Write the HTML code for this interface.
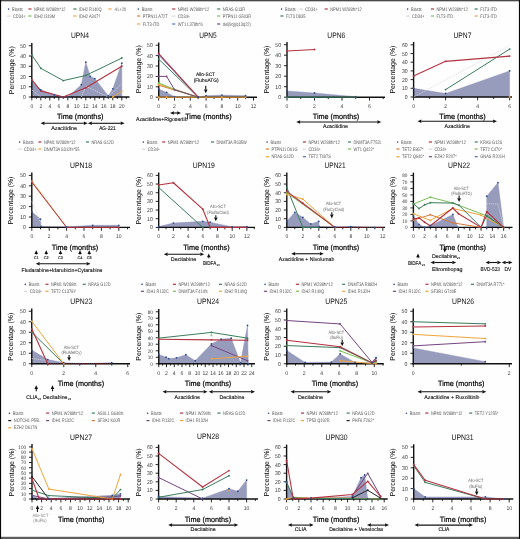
<!DOCTYPE html>
<html><head><meta charset="utf-8"><style>
html,body{margin:0;padding:0;background:#fff;}
svg{display:block;will-change:transform;}
text{font-family:"Liberation Sans", sans-serif;text-rendering:geometricPrecision;}
</style></head><body>
<svg width="520" height="539" viewBox="0 0 520 539">
<rect x="0" y="0" width="520" height="539" fill="#fefefe"/>
<text x="80" y="38.2" font-size="7.9" fill="#111" text-anchor="middle" textLength="18" lengthAdjust="spacingAndGlyphs">UPN4</text>
<circle cx="8.60" cy="9.10" r="0.8" fill="#2c4a8c"/>
<text x="12.0" y="10.5" font-size="5.0" fill="#585858" text-anchor="start" textLength="10.76" lengthAdjust="spacingAndGlyphs">Blasts</text>
<line x1="28.40" y1="9.00" x2="31.50" y2="9.00" stroke="#b3323f" stroke-width="1.2" stroke-linecap="butt"/>
<text x="34.0" y="10.5" font-size="5.0" fill="#585858" text-anchor="start" textLength="31.39" lengthAdjust="spacingAndGlyphs">NPM1 W288fs*12</text>
<line x1="73.40" y1="9.00" x2="76.50" y2="9.00" stroke="#3a7d5c" stroke-width="1.2" stroke-linecap="butt"/>
<text x="79.0" y="10.5" font-size="5.0" fill="#585858" text-anchor="start" textLength="22.61" lengthAdjust="spacingAndGlyphs">IDH2 R140Q</text>
<line x1="108.40" y1="9.00" x2="111.50" y2="9.00" stroke="#f0a53c" stroke-width="1.2" stroke-linecap="butt"/>
<text x="114.0" y="10.5" font-size="5.0" fill="#585858" text-anchor="start" textLength="12.3" lengthAdjust="spacingAndGlyphs">+IL+20</text>
<line x1="7.10" y1="16.10" x2="10.70" y2="16.10" stroke="#c8c8c8" stroke-width="0.8" stroke-linecap="butt"/>
<text x="13.0" y="17.5" font-size="5.0" fill="#585858" text-anchor="start" textLength="12.41" lengthAdjust="spacingAndGlyphs">CD34+</text>
<line x1="28.40" y1="16.00" x2="31.50" y2="16.00" stroke="#79bf55" stroke-width="1.2" stroke-linecap="butt"/>
<text x="34.0" y="17.5" font-size="5.0" fill="#585858" text-anchor="start" textLength="21.08" lengthAdjust="spacingAndGlyphs">IDH2 I319M</text>
<line x1="73.40" y1="16.00" x2="76.50" y2="16.00" stroke="#f0a53c" stroke-width="1.2" stroke-linecap="butt"/>
<text x="79.0" y="17.5" font-size="5.0" fill="#585858" text-anchor="start" textLength="21.3" lengthAdjust="spacingAndGlyphs">IDH2 A347?</text>
<polygon points="31.80,97.00 31.80,81.62 40.80,89.83 54.30,94.95 63.30,97.00 67.80,97.00 81.30,84.70 85.80,62.15 90.30,76.50 94.80,78.55 108.30,95.97 112.80,88.80 121.80,63.18 121.80,97.00" fill="#989cbc" stroke="#8a8dbb" stroke-width="0.4"/>
<line x1="31.80" y1="42.95" x2="31.80" y2="97.70" stroke="#111" stroke-width="1.4" stroke-linecap="butt"/>
<line x1="31.10" y1="97.00" x2="129.50" y2="97.00" stroke="#111" stroke-width="1.4" stroke-linecap="butt"/>
<line x1="28.80" y1="97.00" x2="31.80" y2="97.00" stroke="#111" stroke-width="0.9" stroke-linecap="butt"/>
<text x="25.9" y="99.016" font-size="5.6" fill="#404040" text-anchor="end" textLength="2.87" lengthAdjust="spacingAndGlyphs">0</text>
<line x1="28.80" y1="86.75" x2="31.80" y2="86.75" stroke="#111" stroke-width="0.9" stroke-linecap="butt"/>
<text x="25.9" y="88.766" font-size="5.6" fill="#404040" text-anchor="end" textLength="5.73" lengthAdjust="spacingAndGlyphs">10</text>
<line x1="28.80" y1="76.50" x2="31.80" y2="76.50" stroke="#111" stroke-width="0.9" stroke-linecap="butt"/>
<text x="25.9" y="78.516" font-size="5.6" fill="#404040" text-anchor="end" textLength="5.73" lengthAdjust="spacingAndGlyphs">20</text>
<line x1="28.80" y1="66.25" x2="31.80" y2="66.25" stroke="#111" stroke-width="0.9" stroke-linecap="butt"/>
<text x="25.9" y="68.266" font-size="5.6" fill="#404040" text-anchor="end" textLength="5.73" lengthAdjust="spacingAndGlyphs">30</text>
<line x1="28.80" y1="56.00" x2="31.80" y2="56.00" stroke="#111" stroke-width="0.9" stroke-linecap="butt"/>
<text x="25.9" y="58.016" font-size="5.6" fill="#404040" text-anchor="end" textLength="5.73" lengthAdjust="spacingAndGlyphs">40</text>
<line x1="28.80" y1="45.75" x2="31.80" y2="45.75" stroke="#111" stroke-width="0.9" stroke-linecap="butt"/>
<text x="25.9" y="47.766000000000005" font-size="5.6" fill="#404040" text-anchor="end" textLength="5.73" lengthAdjust="spacingAndGlyphs">50</text>
<line x1="31.80" y1="97.00" x2="31.80" y2="100.40" stroke="#111" stroke-width="0.9" stroke-linecap="butt"/>
<text x="31.8" y="107.9" font-size="5.5" fill="#404040" text-anchor="middle" textLength="2.81" lengthAdjust="spacingAndGlyphs">0</text>
<line x1="36.30" y1="97.00" x2="36.30" y2="98.90" stroke="#111" stroke-width="0.9" stroke-linecap="butt"/>
<line x1="40.80" y1="97.00" x2="40.80" y2="100.40" stroke="#111" stroke-width="0.9" stroke-linecap="butt"/>
<text x="40.8" y="107.9" font-size="5.5" fill="#404040" text-anchor="middle" textLength="2.81" lengthAdjust="spacingAndGlyphs">2</text>
<line x1="45.30" y1="97.00" x2="45.30" y2="98.90" stroke="#111" stroke-width="0.9" stroke-linecap="butt"/>
<line x1="49.80" y1="97.00" x2="49.80" y2="100.40" stroke="#111" stroke-width="0.9" stroke-linecap="butt"/>
<text x="49.8" y="107.9" font-size="5.5" fill="#404040" text-anchor="middle" textLength="2.81" lengthAdjust="spacingAndGlyphs">4</text>
<line x1="54.30" y1="97.00" x2="54.30" y2="98.90" stroke="#111" stroke-width="0.9" stroke-linecap="butt"/>
<line x1="58.80" y1="97.00" x2="58.80" y2="100.40" stroke="#111" stroke-width="0.9" stroke-linecap="butt"/>
<text x="58.8" y="107.9" font-size="5.5" fill="#404040" text-anchor="middle" textLength="2.81" lengthAdjust="spacingAndGlyphs">6</text>
<line x1="63.30" y1="97.00" x2="63.30" y2="98.90" stroke="#111" stroke-width="0.9" stroke-linecap="butt"/>
<line x1="67.80" y1="97.00" x2="67.80" y2="100.40" stroke="#111" stroke-width="0.9" stroke-linecap="butt"/>
<text x="67.8" y="107.9" font-size="5.5" fill="#404040" text-anchor="middle" textLength="2.81" lengthAdjust="spacingAndGlyphs">8</text>
<line x1="72.30" y1="97.00" x2="72.30" y2="98.90" stroke="#111" stroke-width="0.9" stroke-linecap="butt"/>
<line x1="76.80" y1="97.00" x2="76.80" y2="100.40" stroke="#111" stroke-width="0.9" stroke-linecap="butt"/>
<text x="76.8" y="107.9" font-size="5.5" fill="#404040" text-anchor="middle" textLength="5.63" lengthAdjust="spacingAndGlyphs">10</text>
<line x1="81.30" y1="97.00" x2="81.30" y2="98.90" stroke="#111" stroke-width="0.9" stroke-linecap="butt"/>
<line x1="85.80" y1="97.00" x2="85.80" y2="100.40" stroke="#111" stroke-width="0.9" stroke-linecap="butt"/>
<text x="85.8" y="107.9" font-size="5.5" fill="#404040" text-anchor="middle" textLength="5.63" lengthAdjust="spacingAndGlyphs">12</text>
<line x1="90.30" y1="97.00" x2="90.30" y2="98.90" stroke="#111" stroke-width="0.9" stroke-linecap="butt"/>
<line x1="94.80" y1="97.00" x2="94.80" y2="100.40" stroke="#111" stroke-width="0.9" stroke-linecap="butt"/>
<text x="94.8" y="107.9" font-size="5.5" fill="#404040" text-anchor="middle" textLength="5.63" lengthAdjust="spacingAndGlyphs">14</text>
<line x1="99.30" y1="97.00" x2="99.30" y2="98.90" stroke="#111" stroke-width="0.9" stroke-linecap="butt"/>
<line x1="103.80" y1="97.00" x2="103.80" y2="100.40" stroke="#111" stroke-width="0.9" stroke-linecap="butt"/>
<text x="103.8" y="107.9" font-size="5.5" fill="#404040" text-anchor="middle" textLength="5.63" lengthAdjust="spacingAndGlyphs">16</text>
<line x1="108.30" y1="97.00" x2="108.30" y2="98.90" stroke="#111" stroke-width="0.9" stroke-linecap="butt"/>
<line x1="112.80" y1="97.00" x2="112.80" y2="100.40" stroke="#111" stroke-width="0.9" stroke-linecap="butt"/>
<text x="112.8" y="107.9" font-size="5.5" fill="#404040" text-anchor="middle" textLength="5.63" lengthAdjust="spacingAndGlyphs">18</text>
<line x1="117.30" y1="97.00" x2="117.30" y2="98.90" stroke="#111" stroke-width="0.9" stroke-linecap="butt"/>
<line x1="121.80" y1="97.00" x2="121.80" y2="100.40" stroke="#111" stroke-width="0.9" stroke-linecap="butt"/>
<text x="121.8" y="107.9" font-size="5.5" fill="#404040" text-anchor="middle" textLength="5.63" lengthAdjust="spacingAndGlyphs">20</text>
<line x1="126.30" y1="97.00" x2="126.30" y2="98.90" stroke="#111" stroke-width="0.9" stroke-linecap="butt"/>
<polyline points="31.80,89.83 40.80,97.00" fill="none" stroke="#d8d8d8" stroke-width="0.8" stroke-dasharray="1.2,0.8" stroke-linejoin="round"/>
<polyline points="81.30,97.00 85.80,86.24 108.30,97.00 121.80,83.67" fill="none" stroke="#d8d8d8" stroke-width="0.8" stroke-dasharray="1.2,0.8" stroke-linejoin="round"/>
<polyline points="31.80,54.98 40.80,68.30 63.30,80.60 85.80,75.47 121.80,58.05" fill="none" stroke="#3a7d5c" stroke-width="1.0" stroke-linejoin="round"/>
<circle cx="31.80" cy="54.98" r="0.95" fill="#3a7d5c"/>
<circle cx="40.80" cy="68.30" r="0.95" fill="#3a7d5c"/>
<circle cx="63.30" cy="80.60" r="0.95" fill="#3a7d5c"/>
<circle cx="85.80" cy="75.47" r="0.95" fill="#3a7d5c"/>
<circle cx="121.80" cy="58.05" r="0.95" fill="#3a7d5c"/>
<polyline points="31.80,79.58 40.80,90.85 63.30,97.00 85.80,87.78 121.80,66.25" fill="none" stroke="#b3323f" stroke-width="1.1" stroke-linejoin="round"/>
<circle cx="31.80" cy="79.58" r="0.95" fill="#b3323f"/>
<circle cx="40.80" cy="90.85" r="0.95" fill="#b3323f"/>
<circle cx="63.30" cy="97.00" r="0.95" fill="#b3323f"/>
<circle cx="85.80" cy="87.78" r="0.95" fill="#b3323f"/>
<circle cx="121.80" cy="66.25" r="0.95" fill="#b3323f"/>
<polyline points="112.80,97.00 121.80,91.36" fill="none" stroke="#f0a53c" stroke-width="1.0" stroke-linejoin="round"/>
<circle cx="112.80" cy="97.00" r="0.95" fill="#f0a53c"/>
<circle cx="121.80" cy="91.36" r="0.95" fill="#f0a53c"/>
<circle cx="31.80" cy="81.62" r="0.9" fill="#2c4a8c"/>
<circle cx="40.80" cy="89.83" r="0.9" fill="#2c4a8c"/>
<circle cx="54.30" cy="94.95" r="0.9" fill="#2c4a8c"/>
<circle cx="63.30" cy="97.00" r="0.9" fill="#2c4a8c"/>
<circle cx="67.80" cy="97.00" r="0.9" fill="#2c4a8c"/>
<circle cx="81.30" cy="84.70" r="0.9" fill="#2c4a8c"/>
<circle cx="85.80" cy="62.15" r="0.9" fill="#2c4a8c"/>
<circle cx="90.30" cy="76.50" r="0.9" fill="#2c4a8c"/>
<circle cx="94.80" cy="78.55" r="0.9" fill="#2c4a8c"/>
<circle cx="108.30" cy="95.97" r="0.9" fill="#2c4a8c"/>
<circle cx="112.80" cy="88.80" r="0.9" fill="#2c4a8c"/>
<circle cx="121.80" cy="63.18" r="0.9" fill="#2c4a8c"/>
<text x="80.2" y="119.3" font-size="7.6" fill="#000" text-anchor="middle" textLength="46.5" lengthAdjust="spacingAndGlyphs" stroke="#000" stroke-width="0.2">Time (months)</text>
<text x="13.9" y="70.2" font-size="7.2" fill="#000" text-anchor="middle" textLength="48" lengthAdjust="spacingAndGlyphs" transform="rotate(-90 13.9 70.2)">Percentage (%)</text>
<line x1="44.50" y1="123.30" x2="83.80" y2="123.30" stroke="#111" stroke-width="1.1" stroke-linecap="butt"/>
<polygon points="40.60,123.30 44.50,121.55 44.50,125.05" fill="#111"/>
<polygon points="87.70,123.30 83.80,121.55 83.80,125.05" fill="#111"/>
<line x1="91.80" y1="123.30" x2="120.70" y2="123.30" stroke="#111" stroke-width="1.1" stroke-linecap="butt"/>
<polygon points="87.90,123.30 91.80,121.55 91.80,125.05" fill="#111"/>
<polygon points="124.60,123.30 120.70,121.55 120.70,125.05" fill="#111"/>
<text x="64.1" y="129.6" font-size="5.3" fill="#111" text-anchor="middle" textLength="25.9" lengthAdjust="spacingAndGlyphs" stroke="#111" stroke-width="0.12">Azacitidine</text>
<text x="107.4" y="129.6" font-size="5.3" fill="#111" text-anchor="middle" textLength="16.4" lengthAdjust="spacingAndGlyphs" stroke="#111" stroke-width="0.12">AG-221</text>
<text x="208" y="38.2" font-size="7.9" fill="#111" text-anchor="middle" textLength="17.5" lengthAdjust="spacingAndGlyphs">UPN5</text>
<circle cx="138.35" cy="9.10" r="0.8" fill="#2c4a8c"/>
<text x="141.75" y="10.5" font-size="5.0" fill="#585858" text-anchor="start" textLength="10.76" lengthAdjust="spacingAndGlyphs">Blasts</text>
<line x1="172.15" y1="9.00" x2="175.25" y2="9.00" stroke="#b3323f" stroke-width="1.2" stroke-linecap="butt"/>
<text x="177.75" y="10.5" font-size="5.0" fill="#585858" text-anchor="start" textLength="31.39" lengthAdjust="spacingAndGlyphs">NPM1 W288fs*12</text>
<line x1="217.15" y1="9.00" x2="220.25" y2="9.00" stroke="#3a7d5c" stroke-width="1.2" stroke-linecap="butt"/>
<text x="222.75" y="10.5" font-size="5.0" fill="#585858" text-anchor="start" textLength="22.39" lengthAdjust="spacingAndGlyphs">NRAS G13R</text>
<line x1="137.15" y1="16.00" x2="140.25" y2="16.00" stroke="#d47a3a" stroke-width="1.2" stroke-linecap="butt"/>
<text x="142.75" y="17.5" font-size="5.0" fill="#585858" text-anchor="start" textLength="24.96" lengthAdjust="spacingAndGlyphs">PTPN11 A72T</text>
<line x1="171.85" y1="16.10" x2="175.45" y2="16.10" stroke="#c8c8c8" stroke-width="0.8" stroke-linecap="butt"/>
<text x="177.75" y="17.5" font-size="5.0" fill="#585858" text-anchor="start" textLength="12.41" lengthAdjust="spacingAndGlyphs">CD34+</text>
<line x1="217.15" y1="16.00" x2="220.25" y2="16.00" stroke="#79bf55" stroke-width="1.2" stroke-linecap="butt"/>
<text x="222.75" y="17.5" font-size="5.0" fill="#585858" text-anchor="start" textLength="28.25" lengthAdjust="spacingAndGlyphs">PTPN11 G503R</text>
<line x1="137.15" y1="24.00" x2="140.25" y2="24.00" stroke="#f0a53c" stroke-width="1.2" stroke-linecap="butt"/>
<text x="142.75" y="25.5" font-size="5.0" fill="#585858" text-anchor="start" textLength="16.6" lengthAdjust="spacingAndGlyphs">FLT3-ITD</text>
<line x1="172.15" y1="24.00" x2="175.25" y2="24.00" stroke="#4a72b8" stroke-width="1.2" stroke-linecap="butt"/>
<text x="177.75" y="25.5" font-size="5.0" fill="#585858" text-anchor="start" textLength="25.03" lengthAdjust="spacingAndGlyphs">WT1 L378fs*6</text>
<line x1="217.15" y1="24.00" x2="220.25" y2="24.00" stroke="#74457f" stroke-width="1.2" stroke-linecap="butt"/>
<text x="222.75" y="25.5" font-size="5.0" fill="#585858" text-anchor="start" textLength="28.11" lengthAdjust="spacingAndGlyphs">del(9q)(q13q22)</text>
<polygon points="158.70,97.20 158.70,88.88 166.60,92.42 174.50,96.68 198.20,97.20 206.10,95.64 221.90,95.12 245.60,95.64 245.60,97.20" fill="#989cbc" stroke="#8a8dbb" stroke-width="0.4"/>
<line x1="158.70" y1="42.40" x2="158.70" y2="97.90" stroke="#111" stroke-width="1.4" stroke-linecap="butt"/>
<line x1="158.00" y1="97.20" x2="257.00" y2="97.20" stroke="#111" stroke-width="1.4" stroke-linecap="butt"/>
<line x1="155.70" y1="97.20" x2="158.70" y2="97.20" stroke="#111" stroke-width="0.9" stroke-linecap="butt"/>
<text x="152.79999999999998" y="99.21600000000001" font-size="5.6" fill="#404040" text-anchor="end" textLength="2.87" lengthAdjust="spacingAndGlyphs">0</text>
<line x1="155.70" y1="86.80" x2="158.70" y2="86.80" stroke="#111" stroke-width="0.9" stroke-linecap="butt"/>
<text x="152.79999999999998" y="88.816" font-size="5.6" fill="#404040" text-anchor="end" textLength="5.73" lengthAdjust="spacingAndGlyphs">10</text>
<line x1="155.70" y1="76.40" x2="158.70" y2="76.40" stroke="#111" stroke-width="0.9" stroke-linecap="butt"/>
<text x="152.79999999999998" y="78.41600000000001" font-size="5.6" fill="#404040" text-anchor="end" textLength="5.73" lengthAdjust="spacingAndGlyphs">20</text>
<line x1="155.70" y1="66.00" x2="158.70" y2="66.00" stroke="#111" stroke-width="0.9" stroke-linecap="butt"/>
<text x="152.79999999999998" y="68.016" font-size="5.6" fill="#404040" text-anchor="end" textLength="5.73" lengthAdjust="spacingAndGlyphs">30</text>
<line x1="155.70" y1="55.60" x2="158.70" y2="55.60" stroke="#111" stroke-width="0.9" stroke-linecap="butt"/>
<text x="152.79999999999998" y="57.616" font-size="5.6" fill="#404040" text-anchor="end" textLength="5.73" lengthAdjust="spacingAndGlyphs">40</text>
<line x1="155.70" y1="45.20" x2="158.70" y2="45.20" stroke="#111" stroke-width="0.9" stroke-linecap="butt"/>
<text x="152.79999999999998" y="47.216" font-size="5.6" fill="#404040" text-anchor="end" textLength="5.73" lengthAdjust="spacingAndGlyphs">50</text>
<line x1="158.70" y1="97.20" x2="158.70" y2="100.60" stroke="#111" stroke-width="0.9" stroke-linecap="butt"/>
<text x="158.7" y="108.10000000000001" font-size="5.5" fill="#404040" text-anchor="middle" textLength="2.81" lengthAdjust="spacingAndGlyphs">0</text>
<line x1="166.60" y1="97.20" x2="166.60" y2="99.10" stroke="#111" stroke-width="0.9" stroke-linecap="butt"/>
<line x1="174.50" y1="97.20" x2="174.50" y2="100.60" stroke="#111" stroke-width="0.9" stroke-linecap="butt"/>
<text x="174.5" y="108.10000000000001" font-size="5.5" fill="#404040" text-anchor="middle" textLength="2.81" lengthAdjust="spacingAndGlyphs">2</text>
<line x1="182.40" y1="97.20" x2="182.40" y2="99.10" stroke="#111" stroke-width="0.9" stroke-linecap="butt"/>
<line x1="190.30" y1="97.20" x2="190.30" y2="100.60" stroke="#111" stroke-width="0.9" stroke-linecap="butt"/>
<text x="190.29999999999998" y="108.10000000000001" font-size="5.5" fill="#404040" text-anchor="middle" textLength="2.81" lengthAdjust="spacingAndGlyphs">4</text>
<line x1="198.20" y1="97.20" x2="198.20" y2="99.10" stroke="#111" stroke-width="0.9" stroke-linecap="butt"/>
<line x1="206.10" y1="97.20" x2="206.10" y2="100.60" stroke="#111" stroke-width="0.9" stroke-linecap="butt"/>
<text x="206.1" y="108.10000000000001" font-size="5.5" fill="#404040" text-anchor="middle" textLength="2.81" lengthAdjust="spacingAndGlyphs">6</text>
<line x1="214.00" y1="97.20" x2="214.00" y2="99.10" stroke="#111" stroke-width="0.9" stroke-linecap="butt"/>
<line x1="221.90" y1="97.20" x2="221.90" y2="100.60" stroke="#111" stroke-width="0.9" stroke-linecap="butt"/>
<text x="221.89999999999998" y="108.10000000000001" font-size="5.5" fill="#404040" text-anchor="middle" textLength="2.81" lengthAdjust="spacingAndGlyphs">8</text>
<line x1="229.80" y1="97.20" x2="229.80" y2="99.10" stroke="#111" stroke-width="0.9" stroke-linecap="butt"/>
<line x1="237.70" y1="97.20" x2="237.70" y2="100.60" stroke="#111" stroke-width="0.9" stroke-linecap="butt"/>
<text x="237.7" y="108.10000000000001" font-size="5.5" fill="#404040" text-anchor="middle" textLength="5.63" lengthAdjust="spacingAndGlyphs">10</text>
<line x1="245.60" y1="97.20" x2="245.60" y2="99.10" stroke="#111" stroke-width="0.9" stroke-linecap="butt"/>
<line x1="253.50" y1="97.20" x2="253.50" y2="100.60" stroke="#111" stroke-width="0.9" stroke-linecap="butt"/>
<text x="253.5" y="108.10000000000001" font-size="5.5" fill="#404040" text-anchor="middle" textLength="5.63" lengthAdjust="spacingAndGlyphs">12</text>
<polyline points="158.70,97.20 166.60,97.20 174.50,97.20 198.20,97.20 206.10,97.20 221.90,97.20 245.60,97.20" fill="none" stroke="#f0a53c" stroke-width="1.0" stroke-linejoin="round"/>
<circle cx="158.70" cy="97.20" r="0.95" fill="#f0a53c"/>
<circle cx="166.60" cy="97.20" r="0.95" fill="#f0a53c"/>
<circle cx="174.50" cy="97.20" r="0.95" fill="#f0a53c"/>
<circle cx="198.20" cy="97.20" r="0.95" fill="#f0a53c"/>
<circle cx="206.10" cy="97.20" r="0.95" fill="#f0a53c"/>
<circle cx="221.90" cy="97.20" r="0.95" fill="#f0a53c"/>
<circle cx="245.60" cy="97.20" r="0.95" fill="#f0a53c"/>
<polyline points="158.70,85.24 198.20,97.20" fill="none" stroke="#d47a3a" stroke-width="1.0" stroke-linejoin="round"/>
<circle cx="158.70" cy="85.24" r="0.95" fill="#d47a3a"/>
<circle cx="198.20" cy="97.20" r="0.95" fill="#d47a3a"/>
<polyline points="158.70,84.20 198.20,97.20" fill="none" stroke="#f0a53c" stroke-width="1.0" stroke-linejoin="round"/>
<circle cx="158.70" cy="84.20" r="0.95" fill="#f0a53c"/>
<circle cx="198.20" cy="97.20" r="0.95" fill="#f0a53c"/>
<polyline points="158.70,82.95 174.50,89.40 198.20,97.20" fill="none" stroke="#79bf55" stroke-width="1.0" stroke-linejoin="round"/>
<circle cx="158.70" cy="82.95" r="0.95" fill="#79bf55"/>
<circle cx="174.50" cy="89.40" r="0.95" fill="#79bf55"/>
<circle cx="198.20" cy="97.20" r="0.95" fill="#79bf55"/>
<polyline points="158.70,76.40 166.60,76.40 174.50,89.71 198.20,97.20" fill="none" stroke="#74457f" stroke-width="1.0" stroke-linejoin="round"/>
<circle cx="158.70" cy="76.40" r="0.95" fill="#74457f"/>
<circle cx="166.60" cy="76.40" r="0.95" fill="#74457f"/>
<circle cx="174.50" cy="89.71" r="0.95" fill="#74457f"/>
<circle cx="198.20" cy="97.20" r="0.95" fill="#74457f"/>
<polyline points="158.70,59.14 198.20,97.20" fill="none" stroke="#3a7d5c" stroke-width="1.0" stroke-linejoin="round"/>
<circle cx="158.70" cy="59.14" r="0.95" fill="#3a7d5c"/>
<circle cx="198.20" cy="97.20" r="0.95" fill="#3a7d5c"/>
<polyline points="158.70,54.87 198.20,97.20" fill="none" stroke="#4a72b8" stroke-width="1.0" stroke-linejoin="round"/>
<circle cx="158.70" cy="54.87" r="0.95" fill="#4a72b8"/>
<circle cx="198.20" cy="97.20" r="0.95" fill="#4a72b8"/>
<polyline points="158.70,53.52 198.20,97.20" fill="none" stroke="#b3323f" stroke-width="1.1" stroke-linejoin="round"/>
<circle cx="158.70" cy="53.52" r="0.95" fill="#b3323f"/>
<circle cx="198.20" cy="97.20" r="0.95" fill="#b3323f"/>
<circle cx="158.70" cy="88.88" r="0.9" fill="#2c4a8c"/>
<circle cx="166.60" cy="92.42" r="0.9" fill="#2c4a8c"/>
<circle cx="174.50" cy="96.68" r="0.9" fill="#2c4a8c"/>
<circle cx="198.20" cy="97.20" r="0.9" fill="#2c4a8c"/>
<circle cx="206.10" cy="95.64" r="0.9" fill="#2c4a8c"/>
<circle cx="221.90" cy="95.12" r="0.9" fill="#2c4a8c"/>
<circle cx="245.60" cy="95.64" r="0.9" fill="#2c4a8c"/>
<text x="208.4" y="118.8" font-size="7.6" fill="#000" text-anchor="middle" textLength="46.5" lengthAdjust="spacingAndGlyphs" stroke="#000" stroke-width="0.2">Time (months)</text>
<text x="141" y="69.2" font-size="7.2" fill="#000" text-anchor="middle" textLength="48" lengthAdjust="spacingAndGlyphs" transform="rotate(-90 141 69.2)">Percentage (%)</text>
<line x1="173.90" y1="113.00" x2="177.10" y2="113.00" stroke="#111" stroke-width="1.1" stroke-linecap="butt"/>
<polygon points="170.00,113.00 173.90,111.25 173.90,114.75" fill="#111"/>
<polygon points="181.00,113.00 177.10,111.25 177.10,114.75" fill="#111"/>
<text x="161.8" y="120.8" font-size="5.3" fill="#111" text-anchor="middle" textLength="51.5" lengthAdjust="spacingAndGlyphs" stroke="#111" stroke-width="0.12">Azacitidine+Rigosertib</text>
<text x="205.5" y="75.8" font-size="5.0" fill="#111" text-anchor="middle" textLength="19" lengthAdjust="spacingAndGlyphs" stroke="#111" stroke-width="0.12">Allo-SCT</text>
<text x="206.2" y="81.8" font-size="5.0" fill="#111" text-anchor="middle" textLength="25" lengthAdjust="spacingAndGlyphs" stroke="#111" stroke-width="0.12">(FlubuATG)</text>
<line x1="205.75" y1="85.80" x2="205.75" y2="89.40" stroke="#111" stroke-width="1.1" stroke-linecap="butt"/>
<polygon points="205.75,93.20 203.95,89.40 207.55,89.40" fill="#111"/>
<text x="336.3" y="38.2" font-size="7.9" fill="#111" text-anchor="middle" textLength="18" lengthAdjust="spacingAndGlyphs">UPN6</text>
<circle cx="281.60" cy="9.10" r="0.8" fill="#2c4a8c"/>
<text x="285.0" y="10.5" font-size="5.0" fill="#585858" text-anchor="start" textLength="10.76" lengthAdjust="spacingAndGlyphs">Blasts</text>
<line x1="299.35" y1="9.10" x2="302.95" y2="9.10" stroke="#c8c8c8" stroke-width="0.8" stroke-linecap="butt"/>
<text x="305.25" y="10.5" font-size="5.0" fill="#585858" text-anchor="start" textLength="12.41" lengthAdjust="spacingAndGlyphs">CD34+</text>
<line x1="324.65" y1="9.00" x2="327.75" y2="9.00" stroke="#b3323f" stroke-width="1.2" stroke-linecap="butt"/>
<text x="330.25" y="10.5" font-size="5.0" fill="#585858" text-anchor="start" textLength="31.39" lengthAdjust="spacingAndGlyphs">NPM1 W288fs*12</text>
<line x1="280.40" y1="16.00" x2="283.50" y2="16.00" stroke="#3a7d5c" stroke-width="1.2" stroke-linecap="butt"/>
<text x="286.0" y="17.5" font-size="5.0" fill="#585858" text-anchor="start" textLength="19.47" lengthAdjust="spacingAndGlyphs">FLT3 D835</text>
<polygon points="287.00,97.20 287.00,90.90 314.50,93.00 355.75,96.67 355.75,97.20" fill="#989cbc" stroke="#8a8dbb" stroke-width="0.4"/>
<line x1="287.00" y1="41.90" x2="287.00" y2="97.90" stroke="#111" stroke-width="1.4" stroke-linecap="butt"/>
<line x1="286.30" y1="97.20" x2="385.00" y2="97.20" stroke="#111" stroke-width="1.4" stroke-linecap="butt"/>
<line x1="284.00" y1="97.20" x2="287.00" y2="97.20" stroke="#111" stroke-width="0.9" stroke-linecap="butt"/>
<text x="281.1" y="99.21600000000001" font-size="5.6" fill="#404040" text-anchor="end" textLength="2.87" lengthAdjust="spacingAndGlyphs">0</text>
<line x1="284.00" y1="86.70" x2="287.00" y2="86.70" stroke="#111" stroke-width="0.9" stroke-linecap="butt"/>
<text x="281.1" y="88.71600000000001" font-size="5.6" fill="#404040" text-anchor="end" textLength="5.73" lengthAdjust="spacingAndGlyphs">10</text>
<line x1="284.00" y1="76.20" x2="287.00" y2="76.20" stroke="#111" stroke-width="0.9" stroke-linecap="butt"/>
<text x="281.1" y="78.21600000000001" font-size="5.6" fill="#404040" text-anchor="end" textLength="5.73" lengthAdjust="spacingAndGlyphs">20</text>
<line x1="284.00" y1="65.70" x2="287.00" y2="65.70" stroke="#111" stroke-width="0.9" stroke-linecap="butt"/>
<text x="281.1" y="67.71600000000001" font-size="5.6" fill="#404040" text-anchor="end" textLength="5.73" lengthAdjust="spacingAndGlyphs">30</text>
<line x1="284.00" y1="55.20" x2="287.00" y2="55.20" stroke="#111" stroke-width="0.9" stroke-linecap="butt"/>
<text x="281.1" y="57.216" font-size="5.6" fill="#404040" text-anchor="end" textLength="5.73" lengthAdjust="spacingAndGlyphs">40</text>
<line x1="284.00" y1="44.70" x2="287.00" y2="44.70" stroke="#111" stroke-width="0.9" stroke-linecap="butt"/>
<text x="281.1" y="46.716" font-size="5.6" fill="#404040" text-anchor="end" textLength="5.73" lengthAdjust="spacingAndGlyphs">50</text>
<line x1="287.00" y1="97.20" x2="287.00" y2="100.60" stroke="#111" stroke-width="0.9" stroke-linecap="butt"/>
<text x="287.0" y="108.10000000000001" font-size="5.5" fill="#404040" text-anchor="middle" textLength="2.81" lengthAdjust="spacingAndGlyphs">0</text>
<line x1="300.75" y1="97.20" x2="300.75" y2="99.10" stroke="#111" stroke-width="0.9" stroke-linecap="butt"/>
<line x1="314.50" y1="97.20" x2="314.50" y2="100.60" stroke="#111" stroke-width="0.9" stroke-linecap="butt"/>
<text x="314.5" y="108.10000000000001" font-size="5.5" fill="#404040" text-anchor="middle" textLength="2.81" lengthAdjust="spacingAndGlyphs">2</text>
<line x1="328.25" y1="97.20" x2="328.25" y2="99.10" stroke="#111" stroke-width="0.9" stroke-linecap="butt"/>
<line x1="342.00" y1="97.20" x2="342.00" y2="100.60" stroke="#111" stroke-width="0.9" stroke-linecap="butt"/>
<text x="342.0" y="108.10000000000001" font-size="5.5" fill="#404040" text-anchor="middle" textLength="2.81" lengthAdjust="spacingAndGlyphs">4</text>
<line x1="355.75" y1="97.20" x2="355.75" y2="99.10" stroke="#111" stroke-width="0.9" stroke-linecap="butt"/>
<line x1="369.50" y1="97.20" x2="369.50" y2="100.60" stroke="#111" stroke-width="0.9" stroke-linecap="butt"/>
<text x="369.5" y="108.10000000000001" font-size="5.5" fill="#404040" text-anchor="middle" textLength="2.81" lengthAdjust="spacingAndGlyphs">6</text>
<line x1="383.25" y1="97.20" x2="383.25" y2="99.10" stroke="#111" stroke-width="0.9" stroke-linecap="butt"/>
<polyline points="287.00,97.20 314.50,97.20 355.75,97.20" fill="none" stroke="#3a7d5c" stroke-width="1.0" stroke-linejoin="round"/>
<circle cx="287.00" cy="97.20" r="0.95" fill="#3a7d5c"/>
<circle cx="314.50" cy="97.20" r="0.95" fill="#3a7d5c"/>
<circle cx="355.75" cy="97.20" r="0.95" fill="#3a7d5c"/>
<polyline points="287.00,51.00 314.50,49.43" fill="none" stroke="#b3323f" stroke-width="1.1" stroke-linejoin="round"/>
<circle cx="287.00" cy="51.00" r="0.95" fill="#b3323f"/>
<circle cx="314.50" cy="49.43" r="0.95" fill="#b3323f"/>
<circle cx="287.00" cy="90.90" r="0.9" fill="#2c4a8c"/>
<circle cx="314.50" cy="93.00" r="0.9" fill="#2c4a8c"/>
<circle cx="355.75" cy="96.67" r="0.9" fill="#2c4a8c"/>
<text x="336" y="119.3" font-size="7.6" fill="#000" text-anchor="middle" textLength="46.5" lengthAdjust="spacingAndGlyphs" stroke="#000" stroke-width="0.2">Time (months)</text>
<text x="268.7" y="69.6" font-size="7.2" fill="#000" text-anchor="middle" textLength="48" lengthAdjust="spacingAndGlyphs" transform="rotate(-90 268.7 69.6)">Percentage (%)</text>
<line x1="300.15" y1="122.00" x2="377.35" y2="122.00" stroke="#111" stroke-width="1.1" stroke-linecap="butt"/>
<polygon points="296.25,122.00 300.15,120.25 300.15,123.75" fill="#111"/>
<polygon points="381.25,122.00 377.35,120.25 377.35,123.75" fill="#111"/>
<text x="335.5" y="128.2" font-size="5.3" fill="#111" text-anchor="middle" textLength="25" lengthAdjust="spacingAndGlyphs" stroke="#111" stroke-width="0.12">Azacitidine</text>
<text x="462.5" y="38.2" font-size="7.9" fill="#111" text-anchor="middle" textLength="18" lengthAdjust="spacingAndGlyphs">UPN7</text>
<circle cx="407.60" cy="9.10" r="0.8" fill="#2c4a8c"/>
<text x="411.0" y="10.5" font-size="5.0" fill="#585858" text-anchor="start" textLength="10.76" lengthAdjust="spacingAndGlyphs">Blasts</text>
<line x1="430.90" y1="9.00" x2="434.00" y2="9.00" stroke="#b3323f" stroke-width="1.2" stroke-linecap="butt"/>
<text x="436.5" y="10.5" font-size="5.0" fill="#585858" text-anchor="start" textLength="31.39" lengthAdjust="spacingAndGlyphs">NPM1 W288fs*12</text>
<line x1="474.65" y1="9.00" x2="477.75" y2="9.00" stroke="#3a7d5c" stroke-width="1.2" stroke-linecap="butt"/>
<text x="480.25" y="10.5" font-size="5.0" fill="#585858" text-anchor="start" textLength="16.6" lengthAdjust="spacingAndGlyphs">FLT3-ITD</text>
<line x1="406.10" y1="16.10" x2="409.70" y2="16.10" stroke="#c8c8c8" stroke-width="0.8" stroke-linecap="butt"/>
<text x="412.0" y="17.5" font-size="5.0" fill="#585858" text-anchor="start" textLength="12.41" lengthAdjust="spacingAndGlyphs">CD34+</text>
<line x1="430.90" y1="16.00" x2="434.00" y2="16.00" stroke="#79bf55" stroke-width="1.2" stroke-linecap="butt"/>
<text x="436.5" y="17.5" font-size="5.0" fill="#585858" text-anchor="start" textLength="16.6" lengthAdjust="spacingAndGlyphs">FLT3-ITD</text>
<line x1="474.65" y1="16.00" x2="477.75" y2="16.00" stroke="#f0a53c" stroke-width="1.2" stroke-linecap="butt"/>
<text x="480.25" y="17.5" font-size="5.0" fill="#585858" text-anchor="start" textLength="16.6" lengthAdjust="spacingAndGlyphs">FLT3-ITD</text>
<polygon points="413.60,97.00 413.60,88.30 445.60,93.52 509.60,70.90 509.60,97.00" fill="#989cbc" stroke="#8a8dbb" stroke-width="0.4"/>
<line x1="413.60" y1="42.00" x2="413.60" y2="97.70" stroke="#111" stroke-width="1.4" stroke-linecap="butt"/>
<line x1="412.90" y1="97.00" x2="512.00" y2="97.00" stroke="#111" stroke-width="1.4" stroke-linecap="butt"/>
<line x1="410.60" y1="97.00" x2="413.60" y2="97.00" stroke="#111" stroke-width="0.9" stroke-linecap="butt"/>
<text x="407.70000000000005" y="99.016" font-size="5.6" fill="#404040" text-anchor="end" textLength="2.87" lengthAdjust="spacingAndGlyphs">0</text>
<line x1="410.60" y1="88.30" x2="413.60" y2="88.30" stroke="#111" stroke-width="0.9" stroke-linecap="butt"/>
<text x="407.70000000000005" y="90.316" font-size="5.6" fill="#404040" text-anchor="end" textLength="5.73" lengthAdjust="spacingAndGlyphs">10</text>
<line x1="410.60" y1="79.60" x2="413.60" y2="79.60" stroke="#111" stroke-width="0.9" stroke-linecap="butt"/>
<text x="407.70000000000005" y="81.616" font-size="5.6" fill="#404040" text-anchor="end" textLength="5.73" lengthAdjust="spacingAndGlyphs">20</text>
<line x1="410.60" y1="70.90" x2="413.60" y2="70.90" stroke="#111" stroke-width="0.9" stroke-linecap="butt"/>
<text x="407.70000000000005" y="72.91600000000001" font-size="5.6" fill="#404040" text-anchor="end" textLength="5.73" lengthAdjust="spacingAndGlyphs">30</text>
<line x1="410.60" y1="62.20" x2="413.60" y2="62.20" stroke="#111" stroke-width="0.9" stroke-linecap="butt"/>
<text x="407.70000000000005" y="64.21600000000001" font-size="5.6" fill="#404040" text-anchor="end" textLength="5.73" lengthAdjust="spacingAndGlyphs">40</text>
<line x1="410.60" y1="53.50" x2="413.60" y2="53.50" stroke="#111" stroke-width="0.9" stroke-linecap="butt"/>
<text x="407.70000000000005" y="55.516" font-size="5.6" fill="#404040" text-anchor="end" textLength="5.73" lengthAdjust="spacingAndGlyphs">50</text>
<line x1="410.60" y1="44.80" x2="413.60" y2="44.80" stroke="#111" stroke-width="0.9" stroke-linecap="butt"/>
<text x="407.70000000000005" y="46.815999999999995" font-size="5.6" fill="#404040" text-anchor="end" textLength="5.73" lengthAdjust="spacingAndGlyphs">60</text>
<line x1="413.60" y1="97.00" x2="413.60" y2="100.40" stroke="#111" stroke-width="0.9" stroke-linecap="butt"/>
<text x="413.6" y="107.9" font-size="5.5" fill="#404040" text-anchor="middle" textLength="2.81" lengthAdjust="spacingAndGlyphs">0</text>
<line x1="429.60" y1="97.00" x2="429.60" y2="98.90" stroke="#111" stroke-width="0.9" stroke-linecap="butt"/>
<line x1="445.60" y1="97.00" x2="445.60" y2="100.40" stroke="#111" stroke-width="0.9" stroke-linecap="butt"/>
<text x="445.6" y="107.9" font-size="5.5" fill="#404040" text-anchor="middle" textLength="2.81" lengthAdjust="spacingAndGlyphs">2</text>
<line x1="461.60" y1="97.00" x2="461.60" y2="98.90" stroke="#111" stroke-width="0.9" stroke-linecap="butt"/>
<line x1="477.60" y1="97.00" x2="477.60" y2="100.40" stroke="#111" stroke-width="0.9" stroke-linecap="butt"/>
<text x="477.6" y="107.9" font-size="5.5" fill="#404040" text-anchor="middle" textLength="2.81" lengthAdjust="spacingAndGlyphs">4</text>
<line x1="493.60" y1="97.00" x2="493.60" y2="98.90" stroke="#111" stroke-width="0.9" stroke-linecap="butt"/>
<line x1="509.60" y1="97.00" x2="509.60" y2="100.40" stroke="#111" stroke-width="0.9" stroke-linecap="butt"/>
<text x="509.6" y="107.9" font-size="5.5" fill="#404040" text-anchor="middle" textLength="2.81" lengthAdjust="spacingAndGlyphs">6</text>
<polyline points="413.60,97.00 509.60,45.67" fill="none" stroke="#d8d8d8" stroke-width="0.8" stroke-dasharray="1.2,0.8" stroke-linejoin="round"/>
<polyline points="445.60,89.61 509.60,49.15" fill="none" stroke="#3a7d5c" stroke-width="1.0" stroke-linejoin="round"/>
<circle cx="445.60" cy="89.61" r="0.95" fill="#3a7d5c"/>
<circle cx="509.60" cy="49.15" r="0.95" fill="#3a7d5c"/>
<polyline points="413.60,76.12 445.60,61.33 509.60,56.11" fill="none" stroke="#b3323f" stroke-width="1.1" stroke-linejoin="round"/>
<circle cx="413.60" cy="76.12" r="0.95" fill="#b3323f"/>
<circle cx="445.60" cy="61.33" r="0.95" fill="#b3323f"/>
<circle cx="509.60" cy="56.11" r="0.95" fill="#b3323f"/>
<polyline points="509.60,97.00" fill="none" stroke="#f0a53c" stroke-width="1.0" stroke-linejoin="round"/>
<circle cx="509.60" cy="97.00" r="0.95" fill="#f0a53c"/>
<circle cx="413.60" cy="88.30" r="0.9" fill="#2c4a8c"/>
<circle cx="445.60" cy="93.52" r="0.9" fill="#2c4a8c"/>
<circle cx="509.60" cy="70.90" r="0.9" fill="#2c4a8c"/>
<text x="462.5" y="119.3" font-size="7.6" fill="#000" text-anchor="middle" textLength="46.5" lengthAdjust="spacingAndGlyphs" stroke="#000" stroke-width="0.2">Time (months)</text>
<text x="395.2" y="69.6" font-size="7.2" fill="#000" text-anchor="middle" textLength="48" lengthAdjust="spacingAndGlyphs" transform="rotate(-90 395.2 69.6)">Percentage (%)</text>
<line x1="421.40" y1="121.30" x2="493.10" y2="121.30" stroke="#111" stroke-width="1.1" stroke-linecap="butt"/>
<polygon points="417.50,121.30 421.40,119.55 421.40,123.05" fill="#111"/>
<polygon points="497.00,121.30 493.10,119.55 493.10,123.05" fill="#111"/>
<text x="457.2" y="127.8" font-size="5.3" fill="#111" text-anchor="middle" textLength="25.5" lengthAdjust="spacingAndGlyphs" stroke="#111" stroke-width="0.12">Azacitidine</text>
<text x="81.1" y="167.6" font-size="7.9" fill="#111" text-anchor="middle" textLength="22" lengthAdjust="spacingAndGlyphs">UPN18</text>
<circle cx="19.60" cy="142.10" r="0.8" fill="#2c4a8c"/>
<text x="23.0" y="143.5" font-size="5.0" fill="#585858" text-anchor="start" textLength="10.76" lengthAdjust="spacingAndGlyphs">Blasts</text>
<line x1="38.40" y1="142.00" x2="41.50" y2="142.00" stroke="#b3323f" stroke-width="1.2" stroke-linecap="butt"/>
<text x="44.0" y="143.5" font-size="5.0" fill="#585858" text-anchor="start" textLength="31.39" lengthAdjust="spacingAndGlyphs">NPM1 W288fs*12</text>
<line x1="85.90" y1="142.00" x2="89.00" y2="142.00" stroke="#3a7d5c" stroke-width="1.2" stroke-linecap="butt"/>
<text x="91.5" y="143.5" font-size="5.0" fill="#585858" text-anchor="start" textLength="22.39" lengthAdjust="spacingAndGlyphs">NRAS G12D</text>
<line x1="18.10" y1="149.10" x2="21.70" y2="149.10" stroke="#c8c8c8" stroke-width="0.8" stroke-linecap="butt"/>
<text x="24.0" y="150.5" font-size="5.0" fill="#585858" text-anchor="start" textLength="12.41" lengthAdjust="spacingAndGlyphs">CD34+</text>
<line x1="38.40" y1="149.00" x2="41.50" y2="149.00" stroke="#f0a53c" stroke-width="1.2" stroke-linecap="butt"/>
<text x="44.0" y="150.5" font-size="5.0" fill="#585858" text-anchor="start" textLength="35.35" lengthAdjust="spacingAndGlyphs">DNMT3A S312fs*55</text>
<polygon points="31.80,227.40 31.80,211.80 40.50,219.08 40.94,226.36 66.60,226.88 92.70,225.32 118.80,225.32 118.80,227.40" fill="#989cbc" stroke="#8a8dbb" stroke-width="0.4"/>
<line x1="31.80" y1="172.60" x2="31.80" y2="228.10" stroke="#111" stroke-width="1.4" stroke-linecap="butt"/>
<line x1="31.10" y1="227.40" x2="130.00" y2="227.40" stroke="#111" stroke-width="1.4" stroke-linecap="butt"/>
<line x1="28.80" y1="227.40" x2="31.80" y2="227.40" stroke="#111" stroke-width="0.9" stroke-linecap="butt"/>
<text x="25.9" y="229.416" font-size="5.6" fill="#404040" text-anchor="end" textLength="2.87" lengthAdjust="spacingAndGlyphs">0</text>
<line x1="28.80" y1="217.00" x2="31.80" y2="217.00" stroke="#111" stroke-width="0.9" stroke-linecap="butt"/>
<text x="25.9" y="219.016" font-size="5.6" fill="#404040" text-anchor="end" textLength="5.73" lengthAdjust="spacingAndGlyphs">10</text>
<line x1="28.80" y1="206.60" x2="31.80" y2="206.60" stroke="#111" stroke-width="0.9" stroke-linecap="butt"/>
<text x="25.9" y="208.61599999999999" font-size="5.6" fill="#404040" text-anchor="end" textLength="5.73" lengthAdjust="spacingAndGlyphs">20</text>
<line x1="28.80" y1="196.20" x2="31.80" y2="196.20" stroke="#111" stroke-width="0.9" stroke-linecap="butt"/>
<text x="25.9" y="198.21599999999998" font-size="5.6" fill="#404040" text-anchor="end" textLength="5.73" lengthAdjust="spacingAndGlyphs">30</text>
<line x1="28.80" y1="185.80" x2="31.80" y2="185.80" stroke="#111" stroke-width="0.9" stroke-linecap="butt"/>
<text x="25.9" y="187.816" font-size="5.6" fill="#404040" text-anchor="end" textLength="5.73" lengthAdjust="spacingAndGlyphs">40</text>
<line x1="28.80" y1="175.40" x2="31.80" y2="175.40" stroke="#111" stroke-width="0.9" stroke-linecap="butt"/>
<text x="25.9" y="177.416" font-size="5.6" fill="#404040" text-anchor="end" textLength="5.73" lengthAdjust="spacingAndGlyphs">50</text>
<line x1="31.80" y1="227.40" x2="31.80" y2="230.80" stroke="#111" stroke-width="0.9" stroke-linecap="butt"/>
<text x="31.8" y="238.3" font-size="5.5" fill="#404040" text-anchor="middle" textLength="2.81" lengthAdjust="spacingAndGlyphs">0</text>
<line x1="40.50" y1="227.40" x2="40.50" y2="229.30" stroke="#111" stroke-width="0.9" stroke-linecap="butt"/>
<line x1="49.20" y1="227.40" x2="49.20" y2="230.80" stroke="#111" stroke-width="0.9" stroke-linecap="butt"/>
<text x="49.2" y="238.3" font-size="5.5" fill="#404040" text-anchor="middle" textLength="2.81" lengthAdjust="spacingAndGlyphs">2</text>
<line x1="57.90" y1="227.40" x2="57.90" y2="229.30" stroke="#111" stroke-width="0.9" stroke-linecap="butt"/>
<line x1="66.60" y1="227.40" x2="66.60" y2="230.80" stroke="#111" stroke-width="0.9" stroke-linecap="butt"/>
<text x="66.6" y="238.3" font-size="5.5" fill="#404040" text-anchor="middle" textLength="2.81" lengthAdjust="spacingAndGlyphs">4</text>
<line x1="75.30" y1="227.40" x2="75.30" y2="229.30" stroke="#111" stroke-width="0.9" stroke-linecap="butt"/>
<line x1="84.00" y1="227.40" x2="84.00" y2="230.80" stroke="#111" stroke-width="0.9" stroke-linecap="butt"/>
<text x="84.0" y="238.3" font-size="5.5" fill="#404040" text-anchor="middle" textLength="2.81" lengthAdjust="spacingAndGlyphs">6</text>
<line x1="92.70" y1="227.40" x2="92.70" y2="229.30" stroke="#111" stroke-width="0.9" stroke-linecap="butt"/>
<line x1="101.40" y1="227.40" x2="101.40" y2="230.80" stroke="#111" stroke-width="0.9" stroke-linecap="butt"/>
<text x="101.39999999999999" y="238.3" font-size="5.5" fill="#404040" text-anchor="middle" textLength="2.81" lengthAdjust="spacingAndGlyphs">8</text>
<line x1="110.10" y1="227.40" x2="110.10" y2="229.30" stroke="#111" stroke-width="0.9" stroke-linecap="butt"/>
<line x1="118.80" y1="227.40" x2="118.80" y2="230.80" stroke="#111" stroke-width="0.9" stroke-linecap="butt"/>
<text x="118.8" y="238.3" font-size="5.5" fill="#404040" text-anchor="middle" textLength="5.63" lengthAdjust="spacingAndGlyphs">10</text>
<line x1="127.50" y1="227.40" x2="127.50" y2="229.30" stroke="#111" stroke-width="0.9" stroke-linecap="butt"/>
<polyline points="31.80,201.40 40.50,222.20" fill="none" stroke="#d8d8d8" stroke-width="0.8" stroke-dasharray="1.2,0.8" stroke-linejoin="round"/>
<polyline points="31.80,181.12 66.60,227.09" fill="none" stroke="#f0a53c" stroke-width="1.0" stroke-linejoin="round"/>
<circle cx="31.80" cy="181.12" r="0.95" fill="#f0a53c"/>
<circle cx="66.60" cy="227.09" r="0.95" fill="#f0a53c"/>
<polyline points="31.80,182.16 66.60,227.40 92.70,227.40 118.80,227.40" fill="none" stroke="#b3323f" stroke-width="1.0" stroke-linejoin="round"/>
<circle cx="31.80" cy="182.16" r="0.95" fill="#b3323f"/>
<circle cx="66.60" cy="227.40" r="0.95" fill="#b3323f"/>
<circle cx="92.70" cy="227.40" r="0.95" fill="#b3323f"/>
<circle cx="118.80" cy="227.40" r="0.95" fill="#b3323f"/>
<circle cx="31.80" cy="211.80" r="0.9" fill="#2c4a8c"/>
<circle cx="40.50" cy="219.08" r="0.9" fill="#2c4a8c"/>
<circle cx="40.94" cy="226.36" r="0.9" fill="#2c4a8c"/>
<circle cx="66.60" cy="226.88" r="0.9" fill="#2c4a8c"/>
<circle cx="92.70" cy="225.32" r="0.9" fill="#2c4a8c"/>
<circle cx="118.80" cy="225.32" r="0.9" fill="#2c4a8c"/>
<text x="75" y="249.5" font-size="7.6" fill="#000" text-anchor="middle" textLength="46.5" lengthAdjust="spacingAndGlyphs" stroke="#000" stroke-width="0.2">Time (months)</text>
<text x="13.5" y="200.6" font-size="7.2" fill="#000" text-anchor="middle" textLength="48" lengthAdjust="spacingAndGlyphs" transform="rotate(-90 13.5 200.6)">Percentage (%)</text>
<line x1="36.25" y1="254.50" x2="36.25" y2="254.10" stroke="#111" stroke-width="1.1" stroke-linecap="butt"/>
<polygon points="36.25,250.30 34.45,254.10 38.05,254.10" fill="#111"/>
<line x1="46.25" y1="254.50" x2="46.25" y2="254.10" stroke="#111" stroke-width="1.1" stroke-linecap="butt"/>
<polygon points="46.25,250.30 44.45,254.10 48.05,254.10" fill="#111"/>
<line x1="60.50" y1="254.50" x2="60.50" y2="254.10" stroke="#111" stroke-width="1.1" stroke-linecap="butt"/>
<polygon points="60.50,250.30 58.70,254.10 62.30,254.10" fill="#111"/>
<line x1="80.00" y1="254.50" x2="80.00" y2="254.10" stroke="#111" stroke-width="1.1" stroke-linecap="butt"/>
<polygon points="80.00,250.30 78.20,254.10 81.80,254.10" fill="#111"/>
<line x1="89.25" y1="254.50" x2="89.25" y2="254.10" stroke="#111" stroke-width="1.1" stroke-linecap="butt"/>
<polygon points="89.25,250.30 87.45,254.10 91.05,254.10" fill="#111"/>
<text x="36.25" y="258.8" font-size="3.8" fill="#111" text-anchor="middle" stroke="#111" stroke-width="0.12">C1</text>
<text x="46.25" y="258.8" font-size="3.8" fill="#111" text-anchor="middle" stroke="#111" stroke-width="0.12">C2</text>
<text x="60.5" y="258.8" font-size="3.8" fill="#111" text-anchor="middle" stroke="#111" stroke-width="0.12">C3</text>
<text x="80" y="258.8" font-size="3.8" fill="#111" text-anchor="middle" stroke="#111" stroke-width="0.12">C4</text>
<text x="89.25" y="258.8" font-size="3.8" fill="#111" text-anchor="middle" stroke="#111" stroke-width="0.12">C5</text>
<line x1="39.65" y1="263.75" x2="86.60" y2="263.75" stroke="#111" stroke-width="1.1" stroke-linecap="butt"/>
<polygon points="35.75,263.75 39.65,262.00 39.65,265.50" fill="#111"/>
<polygon points="90.50,263.75 86.60,262.00 86.60,265.50" fill="#111"/>
<text x="62" y="271.5" font-size="5.3" fill="#111" text-anchor="middle" textLength="81" lengthAdjust="spacingAndGlyphs" stroke="#111" stroke-width="0.12">Fludarabine+Idarubicin+Cytarabine</text>
<text x="203.8" y="168" font-size="7.9" fill="#111" text-anchor="middle" textLength="22" lengthAdjust="spacingAndGlyphs">UPN19</text>
<circle cx="143.35" cy="142.10" r="0.8" fill="#2c4a8c"/>
<text x="146.75" y="143.5" font-size="5.0" fill="#585858" text-anchor="start" textLength="10.76" lengthAdjust="spacingAndGlyphs">Blasts</text>
<line x1="162.15" y1="142.00" x2="165.25" y2="142.00" stroke="#b3323f" stroke-width="1.2" stroke-linecap="butt"/>
<text x="167.75" y="143.5" font-size="5.0" fill="#585858" text-anchor="start" textLength="31.39" lengthAdjust="spacingAndGlyphs">NPM1 W288fs*12</text>
<line x1="210.90" y1="142.00" x2="214.00" y2="142.00" stroke="#3a7d5c" stroke-width="1.2" stroke-linecap="butt"/>
<text x="216.5" y="143.5" font-size="5.0" fill="#585858" text-anchor="start" textLength="30.29" lengthAdjust="spacingAndGlyphs">DNMT3A R635W</text>
<line x1="141.85" y1="149.10" x2="145.45" y2="149.10" stroke="#c8c8c8" stroke-width="0.8" stroke-linecap="butt"/>
<text x="147.75" y="150.5" font-size="5.0" fill="#585858" text-anchor="start" textLength="12.41" lengthAdjust="spacingAndGlyphs">CD34+</text>
<polygon points="158.70,227.40 158.70,226.53 173.40,223.06 202.80,221.33 210.15,222.20 232.20,226.97 246.90,226.53 246.90,227.40" fill="#989cbc" stroke="#8a8dbb" stroke-width="0.4"/>
<line x1="158.70" y1="172.58" x2="158.70" y2="228.10" stroke="#111" stroke-width="1.4" stroke-linecap="butt"/>
<line x1="158.00" y1="227.40" x2="255.00" y2="227.40" stroke="#111" stroke-width="1.4" stroke-linecap="butt"/>
<line x1="155.70" y1="227.40" x2="158.70" y2="227.40" stroke="#111" stroke-width="0.9" stroke-linecap="butt"/>
<text x="152.79999999999998" y="229.416" font-size="5.6" fill="#404040" text-anchor="end" textLength="2.87" lengthAdjust="spacingAndGlyphs">0</text>
<line x1="155.70" y1="218.73" x2="158.70" y2="218.73" stroke="#111" stroke-width="0.9" stroke-linecap="butt"/>
<text x="152.79999999999998" y="220.746" font-size="5.6" fill="#404040" text-anchor="end" textLength="5.73" lengthAdjust="spacingAndGlyphs">10</text>
<line x1="155.70" y1="210.06" x2="158.70" y2="210.06" stroke="#111" stroke-width="0.9" stroke-linecap="butt"/>
<text x="152.79999999999998" y="212.076" font-size="5.6" fill="#404040" text-anchor="end" textLength="5.73" lengthAdjust="spacingAndGlyphs">20</text>
<line x1="155.70" y1="201.39" x2="158.70" y2="201.39" stroke="#111" stroke-width="0.9" stroke-linecap="butt"/>
<text x="152.79999999999998" y="203.406" font-size="5.6" fill="#404040" text-anchor="end" textLength="5.73" lengthAdjust="spacingAndGlyphs">30</text>
<line x1="155.70" y1="192.72" x2="158.70" y2="192.72" stroke="#111" stroke-width="0.9" stroke-linecap="butt"/>
<text x="152.79999999999998" y="194.736" font-size="5.6" fill="#404040" text-anchor="end" textLength="5.73" lengthAdjust="spacingAndGlyphs">40</text>
<line x1="155.70" y1="184.05" x2="158.70" y2="184.05" stroke="#111" stroke-width="0.9" stroke-linecap="butt"/>
<text x="152.79999999999998" y="186.066" font-size="5.6" fill="#404040" text-anchor="end" textLength="5.73" lengthAdjust="spacingAndGlyphs">50</text>
<line x1="155.70" y1="175.38" x2="158.70" y2="175.38" stroke="#111" stroke-width="0.9" stroke-linecap="butt"/>
<text x="152.79999999999998" y="177.396" font-size="5.6" fill="#404040" text-anchor="end" textLength="5.73" lengthAdjust="spacingAndGlyphs">60</text>
<line x1="158.70" y1="227.40" x2="158.70" y2="230.80" stroke="#111" stroke-width="0.9" stroke-linecap="butt"/>
<text x="158.7" y="238.3" font-size="5.5" fill="#404040" text-anchor="middle" textLength="2.81" lengthAdjust="spacingAndGlyphs">0</text>
<line x1="166.05" y1="227.40" x2="166.05" y2="229.30" stroke="#111" stroke-width="0.9" stroke-linecap="butt"/>
<line x1="173.40" y1="227.40" x2="173.40" y2="230.80" stroke="#111" stroke-width="0.9" stroke-linecap="butt"/>
<text x="173.39999999999998" y="238.3" font-size="5.5" fill="#404040" text-anchor="middle" textLength="2.81" lengthAdjust="spacingAndGlyphs">2</text>
<line x1="180.75" y1="227.40" x2="180.75" y2="229.30" stroke="#111" stroke-width="0.9" stroke-linecap="butt"/>
<line x1="188.10" y1="227.40" x2="188.10" y2="230.80" stroke="#111" stroke-width="0.9" stroke-linecap="butt"/>
<text x="188.1" y="238.3" font-size="5.5" fill="#404040" text-anchor="middle" textLength="2.81" lengthAdjust="spacingAndGlyphs">4</text>
<line x1="195.45" y1="227.40" x2="195.45" y2="229.30" stroke="#111" stroke-width="0.9" stroke-linecap="butt"/>
<line x1="202.80" y1="227.40" x2="202.80" y2="230.80" stroke="#111" stroke-width="0.9" stroke-linecap="butt"/>
<text x="202.79999999999998" y="238.3" font-size="5.5" fill="#404040" text-anchor="middle" textLength="2.81" lengthAdjust="spacingAndGlyphs">6</text>
<line x1="210.15" y1="227.40" x2="210.15" y2="229.30" stroke="#111" stroke-width="0.9" stroke-linecap="butt"/>
<line x1="217.50" y1="227.40" x2="217.50" y2="230.80" stroke="#111" stroke-width="0.9" stroke-linecap="butt"/>
<text x="217.5" y="238.3" font-size="5.5" fill="#404040" text-anchor="middle" textLength="2.81" lengthAdjust="spacingAndGlyphs">8</text>
<line x1="224.85" y1="227.40" x2="224.85" y2="229.30" stroke="#111" stroke-width="0.9" stroke-linecap="butt"/>
<line x1="232.20" y1="227.40" x2="232.20" y2="230.80" stroke="#111" stroke-width="0.9" stroke-linecap="butt"/>
<text x="232.2" y="238.3" font-size="5.5" fill="#404040" text-anchor="middle" textLength="5.63" lengthAdjust="spacingAndGlyphs">10</text>
<line x1="239.55" y1="227.40" x2="239.55" y2="229.30" stroke="#111" stroke-width="0.9" stroke-linecap="butt"/>
<line x1="246.90" y1="227.40" x2="246.90" y2="230.80" stroke="#111" stroke-width="0.9" stroke-linecap="butt"/>
<text x="246.89999999999998" y="238.3" font-size="5.5" fill="#404040" text-anchor="middle" textLength="5.63" lengthAdjust="spacingAndGlyphs">12</text>
<line x1="254.25" y1="227.40" x2="254.25" y2="229.30" stroke="#111" stroke-width="0.9" stroke-linecap="butt"/>
<polyline points="158.70,187.52 202.80,227.40" fill="none" stroke="#3a7d5c" stroke-width="1.0" stroke-linejoin="round"/>
<circle cx="158.70" cy="187.52" r="0.95" fill="#3a7d5c"/>
<circle cx="202.80" cy="227.40" r="0.95" fill="#3a7d5c"/>
<polyline points="158.70,184.92 173.40,182.75 202.80,209.19 210.15,227.40 232.20,227.40 246.90,227.40" fill="none" stroke="#b3323f" stroke-width="1.1" stroke-linejoin="round"/>
<circle cx="158.70" cy="184.92" r="0.95" fill="#b3323f"/>
<circle cx="173.40" cy="182.75" r="0.95" fill="#b3323f"/>
<circle cx="202.80" cy="209.19" r="0.95" fill="#b3323f"/>
<circle cx="210.15" cy="227.40" r="0.95" fill="#b3323f"/>
<circle cx="232.20" cy="227.40" r="0.95" fill="#b3323f"/>
<circle cx="246.90" cy="227.40" r="0.95" fill="#b3323f"/>
<circle cx="158.70" cy="226.53" r="0.9" fill="#2c4a8c"/>
<circle cx="173.40" cy="223.06" r="0.9" fill="#2c4a8c"/>
<circle cx="202.80" cy="221.33" r="0.9" fill="#2c4a8c"/>
<circle cx="210.15" cy="222.20" r="0.9" fill="#2c4a8c"/>
<circle cx="232.20" cy="226.97" r="0.9" fill="#2c4a8c"/>
<circle cx="246.90" cy="226.53" r="0.9" fill="#2c4a8c"/>
<text x="206.4" y="249.5" font-size="7.6" fill="#000" text-anchor="middle" textLength="46.5" lengthAdjust="spacingAndGlyphs" stroke="#000" stroke-width="0.2">Time (months)</text>
<text x="141.3" y="200.6" font-size="7.2" fill="#000" text-anchor="middle" textLength="48" lengthAdjust="spacingAndGlyphs" transform="rotate(-90 141.3 200.6)">Percentage (%)</text>
<line x1="167.65" y1="254.20" x2="200.30" y2="254.20" stroke="#111" stroke-width="1.1" stroke-linecap="butt"/>
<polygon points="163.75,254.20 167.65,252.45 167.65,255.95" fill="#111"/>
<polygon points="204.20,254.20 200.30,252.45 200.30,255.95" fill="#111"/>
<text x="183.5" y="260.8" font-size="5.3" fill="#111" text-anchor="middle" textLength="25.5" lengthAdjust="spacingAndGlyphs" stroke="#111" stroke-width="0.12">Decitabine</text>
<line x1="208.75" y1="258.30" x2="208.75" y2="257.30" stroke="#111" stroke-width="1.1" stroke-linecap="butt"/>
<polygon points="208.75,253.50 206.95,257.30 210.55,257.30" fill="#111"/>
<text x="209.6" y="265" font-size="5.3" fill="#111" text-anchor="middle" textLength="13.2" lengthAdjust="spacingAndGlyphs" stroke="#111" stroke-width="0.12">BIDFA</text>
<text x="218.3" y="266.2" font-size="2.8" fill="#111" text-anchor="middle" stroke="#111" stroke-width="0.12">x1</text>
<text x="218" y="208.2" font-size="4.6" fill="#6a6a6a" text-anchor="middle" textLength="15.8" lengthAdjust="spacingAndGlyphs">Allo-SCT</text>
<text x="218" y="213.5" font-size="4.6" fill="#6a6a6a" text-anchor="middle" textLength="21.8" lengthAdjust="spacingAndGlyphs">(FluBuClad)</text>
<line x1="215.80" y1="215.30" x2="215.80" y2="217.50" stroke="#111" stroke-width="1.1" stroke-linecap="butt"/>
<polygon points="215.80,221.30 214.00,217.50 217.60,217.50" fill="#111"/>
<text x="335.1" y="167.8" font-size="7.9" fill="#111" text-anchor="middle" textLength="21" lengthAdjust="spacingAndGlyphs">UPN21</text>
<circle cx="267.10" cy="142.10" r="0.8" fill="#2c4a8c"/>
<text x="270.5" y="143.5" font-size="5.0" fill="#585858" text-anchor="start" textLength="10.76" lengthAdjust="spacingAndGlyphs">Blasts</text>
<line x1="302.90" y1="142.00" x2="306.00" y2="142.00" stroke="#b3323f" stroke-width="1.2" stroke-linecap="butt"/>
<text x="308.5" y="143.5" font-size="5.0" fill="#585858" text-anchor="start" textLength="31.39" lengthAdjust="spacingAndGlyphs">NPM1 W288fs*12</text>
<line x1="347.90" y1="142.00" x2="351.00" y2="142.00" stroke="#3a7d5c" stroke-width="1.2" stroke-linecap="butt"/>
<text x="353.5" y="143.5" font-size="5.0" fill="#585858" text-anchor="start" textLength="28.32" lengthAdjust="spacingAndGlyphs">DNMT3A F752L</text>
<line x1="265.90" y1="149.00" x2="269.00" y2="149.00" stroke="#d47a3a" stroke-width="1.2" stroke-linecap="butt"/>
<text x="271.5" y="150.5" font-size="5.0" fill="#585858" text-anchor="start" textLength="26.05" lengthAdjust="spacingAndGlyphs">PTPN11 D61G</text>
<line x1="302.60" y1="149.10" x2="306.20" y2="149.10" stroke="#c8c8c8" stroke-width="0.8" stroke-linecap="butt"/>
<text x="308.5" y="150.5" font-size="5.0" fill="#585858" text-anchor="start" textLength="12.41" lengthAdjust="spacingAndGlyphs">CD34+</text>
<line x1="347.90" y1="149.00" x2="351.00" y2="149.00" stroke="#79bf55" stroke-width="1.2" stroke-linecap="butt"/>
<text x="353.5" y="150.5" font-size="5.0" fill="#585858" text-anchor="start" textLength="20.64" lengthAdjust="spacingAndGlyphs">WT1 Q422*</text>
<line x1="265.90" y1="156.70" x2="269.00" y2="156.70" stroke="#f0a53c" stroke-width="1.2" stroke-linecap="butt"/>
<text x="271.5" y="158.2" font-size="5.0" fill="#585858" text-anchor="start" textLength="22.39" lengthAdjust="spacingAndGlyphs">NRAS G12D</text>
<line x1="302.90" y1="156.70" x2="306.00" y2="156.70" stroke="#4a72b8" stroke-width="1.2" stroke-linecap="butt"/>
<text x="308.5" y="158.2" font-size="5.0" fill="#585858" text-anchor="start" textLength="22.32" lengthAdjust="spacingAndGlyphs">TET2 T497S</text>
<polygon points="286.80,227.40 286.80,221.33 294.80,212.31 302.80,217.43 310.80,223.93 318.80,221.33 319.20,226.53 334.80,226.97 350.80,226.53 374.80,227.40 374.80,227.40" fill="#989cbc" stroke="#8a8dbb" stroke-width="0.4"/>
<line x1="286.80" y1="172.58" x2="286.80" y2="228.10" stroke="#111" stroke-width="1.4" stroke-linecap="butt"/>
<line x1="286.10" y1="227.40" x2="385.00" y2="227.40" stroke="#111" stroke-width="1.4" stroke-linecap="butt"/>
<line x1="283.80" y1="227.40" x2="286.80" y2="227.40" stroke="#111" stroke-width="0.9" stroke-linecap="butt"/>
<text x="280.90000000000003" y="229.416" font-size="5.6" fill="#404040" text-anchor="end" textLength="2.87" lengthAdjust="spacingAndGlyphs">0</text>
<line x1="283.80" y1="218.73" x2="286.80" y2="218.73" stroke="#111" stroke-width="0.9" stroke-linecap="butt"/>
<text x="280.90000000000003" y="220.746" font-size="5.6" fill="#404040" text-anchor="end" textLength="5.73" lengthAdjust="spacingAndGlyphs">10</text>
<line x1="283.80" y1="210.06" x2="286.80" y2="210.06" stroke="#111" stroke-width="0.9" stroke-linecap="butt"/>
<text x="280.90000000000003" y="212.076" font-size="5.6" fill="#404040" text-anchor="end" textLength="5.73" lengthAdjust="spacingAndGlyphs">20</text>
<line x1="283.80" y1="201.39" x2="286.80" y2="201.39" stroke="#111" stroke-width="0.9" stroke-linecap="butt"/>
<text x="280.90000000000003" y="203.406" font-size="5.6" fill="#404040" text-anchor="end" textLength="5.73" lengthAdjust="spacingAndGlyphs">30</text>
<line x1="283.80" y1="192.72" x2="286.80" y2="192.72" stroke="#111" stroke-width="0.9" stroke-linecap="butt"/>
<text x="280.90000000000003" y="194.736" font-size="5.6" fill="#404040" text-anchor="end" textLength="5.73" lengthAdjust="spacingAndGlyphs">40</text>
<line x1="283.80" y1="184.05" x2="286.80" y2="184.05" stroke="#111" stroke-width="0.9" stroke-linecap="butt"/>
<text x="280.90000000000003" y="186.066" font-size="5.6" fill="#404040" text-anchor="end" textLength="5.73" lengthAdjust="spacingAndGlyphs">50</text>
<line x1="283.80" y1="175.38" x2="286.80" y2="175.38" stroke="#111" stroke-width="0.9" stroke-linecap="butt"/>
<text x="280.90000000000003" y="177.396" font-size="5.6" fill="#404040" text-anchor="end" textLength="5.73" lengthAdjust="spacingAndGlyphs">60</text>
<line x1="286.80" y1="227.40" x2="286.80" y2="230.80" stroke="#111" stroke-width="0.9" stroke-linecap="butt"/>
<text x="286.8" y="238.3" font-size="5.5" fill="#404040" text-anchor="middle" textLength="2.81" lengthAdjust="spacingAndGlyphs">0</text>
<line x1="294.80" y1="227.40" x2="294.80" y2="229.30" stroke="#111" stroke-width="0.9" stroke-linecap="butt"/>
<line x1="302.80" y1="227.40" x2="302.80" y2="230.80" stroke="#111" stroke-width="0.9" stroke-linecap="butt"/>
<text x="302.8" y="238.3" font-size="5.5" fill="#404040" text-anchor="middle" textLength="2.81" lengthAdjust="spacingAndGlyphs">2</text>
<line x1="310.80" y1="227.40" x2="310.80" y2="229.30" stroke="#111" stroke-width="0.9" stroke-linecap="butt"/>
<line x1="318.80" y1="227.40" x2="318.80" y2="230.80" stroke="#111" stroke-width="0.9" stroke-linecap="butt"/>
<text x="318.8" y="238.3" font-size="5.5" fill="#404040" text-anchor="middle" textLength="2.81" lengthAdjust="spacingAndGlyphs">4</text>
<line x1="326.80" y1="227.40" x2="326.80" y2="229.30" stroke="#111" stroke-width="0.9" stroke-linecap="butt"/>
<line x1="334.80" y1="227.40" x2="334.80" y2="230.80" stroke="#111" stroke-width="0.9" stroke-linecap="butt"/>
<text x="334.8" y="238.3" font-size="5.5" fill="#404040" text-anchor="middle" textLength="2.81" lengthAdjust="spacingAndGlyphs">6</text>
<line x1="342.80" y1="227.40" x2="342.80" y2="229.30" stroke="#111" stroke-width="0.9" stroke-linecap="butt"/>
<line x1="350.80" y1="227.40" x2="350.80" y2="230.80" stroke="#111" stroke-width="0.9" stroke-linecap="butt"/>
<text x="350.8" y="238.3" font-size="5.5" fill="#404040" text-anchor="middle" textLength="2.81" lengthAdjust="spacingAndGlyphs">8</text>
<line x1="358.80" y1="227.40" x2="358.80" y2="229.30" stroke="#111" stroke-width="0.9" stroke-linecap="butt"/>
<line x1="366.80" y1="227.40" x2="366.80" y2="230.80" stroke="#111" stroke-width="0.9" stroke-linecap="butt"/>
<text x="366.8" y="238.3" font-size="5.5" fill="#404040" text-anchor="middle" textLength="5.63" lengthAdjust="spacingAndGlyphs">10</text>
<line x1="374.80" y1="227.40" x2="374.80" y2="229.30" stroke="#111" stroke-width="0.9" stroke-linecap="butt"/>
<line x1="382.80" y1="227.40" x2="382.80" y2="230.80" stroke="#111" stroke-width="0.9" stroke-linecap="butt"/>
<text x="382.8" y="238.3" font-size="5.5" fill="#404040" text-anchor="middle" textLength="5.63" lengthAdjust="spacingAndGlyphs">12</text>
<polyline points="334.80,227.40 382.80,227.40" fill="none" stroke="#b3323f" stroke-width="0.8" stroke-dasharray="1,0.8" stroke-linejoin="round"/>
<polyline points="286.80,187.52 302.80,227.40 318.80,227.40" fill="none" stroke="#3a7d5c" stroke-width="1.0" stroke-linejoin="round"/>
<circle cx="286.80" cy="187.52" r="0.95" fill="#3a7d5c"/>
<circle cx="302.80" cy="227.40" r="0.95" fill="#3a7d5c"/>
<circle cx="318.80" cy="227.40" r="0.95" fill="#3a7d5c"/>
<polyline points="286.80,192.72 334.80,227.40" fill="none" stroke="#79bf55" stroke-width="1.0" stroke-linejoin="round"/>
<circle cx="286.80" cy="192.72" r="0.95" fill="#79bf55"/>
<circle cx="334.80" cy="227.40" r="0.95" fill="#79bf55"/>
<polyline points="286.80,194.45 302.80,199.14 334.80,227.40" fill="none" stroke="#f0a53c" stroke-width="1.0" stroke-linejoin="round"/>
<circle cx="286.80" cy="194.45" r="0.95" fill="#f0a53c"/>
<circle cx="302.80" cy="199.14" r="0.95" fill="#f0a53c"/>
<circle cx="334.80" cy="227.40" r="0.95" fill="#f0a53c"/>
<polyline points="286.80,191.33 302.80,203.30 334.80,227.40" fill="none" stroke="#b3323f" stroke-width="1.1" stroke-linejoin="round"/>
<circle cx="286.80" cy="191.33" r="0.95" fill="#b3323f"/>
<circle cx="302.80" cy="203.30" r="0.95" fill="#b3323f"/>
<circle cx="334.80" cy="227.40" r="0.95" fill="#b3323f"/>
<circle cx="286.80" cy="221.33" r="0.9" fill="#2c4a8c"/>
<circle cx="294.80" cy="212.31" r="0.9" fill="#2c4a8c"/>
<circle cx="302.80" cy="217.43" r="0.9" fill="#2c4a8c"/>
<circle cx="310.80" cy="223.93" r="0.9" fill="#2c4a8c"/>
<circle cx="318.80" cy="221.33" r="0.9" fill="#2c4a8c"/>
<circle cx="319.20" cy="226.53" r="0.9" fill="#2c4a8c"/>
<circle cx="334.80" cy="226.97" r="0.9" fill="#2c4a8c"/>
<circle cx="350.80" cy="226.53" r="0.9" fill="#2c4a8c"/>
<circle cx="374.80" cy="227.40" r="0.9" fill="#2c4a8c"/>
<text x="336" y="249.5" font-size="7.6" fill="#000" text-anchor="middle" textLength="46.5" lengthAdjust="spacingAndGlyphs" stroke="#000" stroke-width="0.2">Time (months)</text>
<text x="268.7" y="200.6" font-size="7.2" fill="#000" text-anchor="middle" textLength="48" lengthAdjust="spacingAndGlyphs" transform="rotate(-90 268.7 200.6)">Percentage (%)</text>
<line x1="295.15" y1="253.75" x2="319.85" y2="253.75" stroke="#111" stroke-width="1.1" stroke-linecap="butt"/>
<polygon points="291.25,253.75 295.15,252.00 295.15,255.50" fill="#111"/>
<polygon points="323.75,253.75 319.85,252.00 319.85,255.50" fill="#111"/>
<text x="306.6" y="260.8" font-size="5.3" fill="#111" text-anchor="middle" textLength="55.5" lengthAdjust="spacingAndGlyphs" stroke="#111" stroke-width="0.12">Azacitidine + Nivolumab</text>
<text x="333.5" y="205.3" font-size="4.6" fill="#6a6a6a" text-anchor="middle" textLength="15.1" lengthAdjust="spacingAndGlyphs">Allo-SCT</text>
<text x="333.7" y="210.7" font-size="4.6" fill="#6a6a6a" text-anchor="middle" textLength="21" lengthAdjust="spacingAndGlyphs">(FluCyClad)</text>
<line x1="331.80" y1="212.30" x2="331.80" y2="214.60" stroke="#111" stroke-width="1.1" stroke-linecap="butt"/>
<polygon points="331.80,218.40 330.00,214.60 333.60,214.60" fill="#111"/>
<text x="459" y="168" font-size="7.9" fill="#111" text-anchor="middle" textLength="22" lengthAdjust="spacingAndGlyphs">UPN22</text>
<circle cx="397.60" cy="142.10" r="0.8" fill="#2c4a8c"/>
<text x="401.0" y="143.5" font-size="5.0" fill="#585858" text-anchor="start" textLength="10.76" lengthAdjust="spacingAndGlyphs">Blasts</text>
<line x1="428.90" y1="142.00" x2="432.00" y2="142.00" stroke="#b3323f" stroke-width="1.2" stroke-linecap="butt"/>
<text x="434.5" y="143.5" font-size="5.0" fill="#585858" text-anchor="start" textLength="31.39" lengthAdjust="spacingAndGlyphs">NPM1 W288fs*12</text>
<line x1="474.65" y1="142.00" x2="477.75" y2="142.00" stroke="#3a7d5c" stroke-width="1.2" stroke-linecap="butt"/>
<text x="480.25" y="143.5" font-size="5.0" fill="#585858" text-anchor="start" textLength="21.95" lengthAdjust="spacingAndGlyphs">KRAS G12S</text>
<line x1="396.40" y1="149.00" x2="399.50" y2="149.00" stroke="#d47a3a" stroke-width="1.2" stroke-linecap="butt"/>
<text x="402.0" y="150.5" font-size="5.0" fill="#585858" text-anchor="start" textLength="21.52" lengthAdjust="spacingAndGlyphs">TET2 E867*</text>
<line x1="428.60" y1="149.10" x2="432.20" y2="149.10" stroke="#c8c8c8" stroke-width="0.8" stroke-linecap="butt"/>
<text x="434.5" y="150.5" font-size="5.0" fill="#585858" text-anchor="start" textLength="12.41" lengthAdjust="spacingAndGlyphs">CD34+</text>
<line x1="474.65" y1="149.00" x2="477.75" y2="149.00" stroke="#79bf55" stroke-width="1.2" stroke-linecap="butt"/>
<text x="480.25" y="150.5" font-size="5.0" fill="#585858" text-anchor="start" textLength="21.73" lengthAdjust="spacingAndGlyphs">TET2 C470*</text>
<line x1="396.40" y1="156.70" x2="399.50" y2="156.70" stroke="#f0a53c" stroke-width="1.2" stroke-linecap="butt"/>
<text x="402.0" y="158.2" font-size="5.0" fill="#585858" text-anchor="start" textLength="21.95" lengthAdjust="spacingAndGlyphs">TET2 Q640*</text>
<line x1="428.90" y1="156.70" x2="432.00" y2="156.70" stroke="#74457f" stroke-width="1.2" stroke-linecap="butt"/>
<text x="434.5" y="158.2" font-size="5.0" fill="#585858" text-anchor="start" textLength="22.17" lengthAdjust="spacingAndGlyphs">EZH2 R207*</text>
<line x1="474.65" y1="156.70" x2="477.75" y2="156.70" stroke="#4a72b8" stroke-width="1.2" stroke-linecap="butt"/>
<text x="480.25" y="158.2" font-size="5.0" fill="#585858" text-anchor="start" textLength="24.59" lengthAdjust="spacingAndGlyphs">GNAS R201H</text>
<polygon points="413.40,227.40 413.40,215.90 419.04,224.28 424.68,227.21 430.32,225.71 452.88,214.40 457.96,227.40 457.96,227.40" fill="#989cbc" stroke="#8a8dbb" stroke-width="0.4"/>
<polygon points="486.72,227.40 486.72,227.40 486.72,196.20 498.00,182.55 503.64,227.40 503.64,227.40" fill="#989cbc" stroke="#8a8dbb" stroke-width="0.4"/>
<line x1="413.40" y1="172.60" x2="413.40" y2="228.10" stroke="#111" stroke-width="1.4" stroke-linecap="butt"/>
<line x1="412.70" y1="227.40" x2="512.50" y2="227.40" stroke="#111" stroke-width="1.4" stroke-linecap="butt"/>
<line x1="410.40" y1="227.40" x2="413.40" y2="227.40" stroke="#111" stroke-width="0.9" stroke-linecap="butt"/>
<text x="407.5" y="229.23600000000002" font-size="5.1" fill="#404040" text-anchor="end" textLength="2.61" lengthAdjust="spacingAndGlyphs">0</text>
<line x1="410.40" y1="220.90" x2="413.40" y2="220.90" stroke="#111" stroke-width="0.9" stroke-linecap="butt"/>
<text x="407.5" y="222.73600000000002" font-size="5.1" fill="#404040" text-anchor="end" textLength="5.22" lengthAdjust="spacingAndGlyphs">10</text>
<line x1="410.40" y1="214.40" x2="413.40" y2="214.40" stroke="#111" stroke-width="0.9" stroke-linecap="butt"/>
<text x="407.5" y="216.23600000000002" font-size="5.1" fill="#404040" text-anchor="end" textLength="5.22" lengthAdjust="spacingAndGlyphs">20</text>
<line x1="410.40" y1="207.90" x2="413.40" y2="207.90" stroke="#111" stroke-width="0.9" stroke-linecap="butt"/>
<text x="407.5" y="209.73600000000002" font-size="5.1" fill="#404040" text-anchor="end" textLength="5.22" lengthAdjust="spacingAndGlyphs">30</text>
<line x1="410.40" y1="201.40" x2="413.40" y2="201.40" stroke="#111" stroke-width="0.9" stroke-linecap="butt"/>
<text x="407.5" y="203.23600000000002" font-size="5.1" fill="#404040" text-anchor="end" textLength="5.22" lengthAdjust="spacingAndGlyphs">40</text>
<line x1="410.40" y1="194.90" x2="413.40" y2="194.90" stroke="#111" stroke-width="0.9" stroke-linecap="butt"/>
<text x="407.5" y="196.73600000000002" font-size="5.1" fill="#404040" text-anchor="end" textLength="5.22" lengthAdjust="spacingAndGlyphs">50</text>
<line x1="410.40" y1="188.40" x2="413.40" y2="188.40" stroke="#111" stroke-width="0.9" stroke-linecap="butt"/>
<text x="407.5" y="190.23600000000002" font-size="5.1" fill="#404040" text-anchor="end" textLength="5.22" lengthAdjust="spacingAndGlyphs">60</text>
<line x1="410.40" y1="181.90" x2="413.40" y2="181.90" stroke="#111" stroke-width="0.9" stroke-linecap="butt"/>
<text x="407.5" y="183.73600000000002" font-size="5.1" fill="#404040" text-anchor="end" textLength="5.22" lengthAdjust="spacingAndGlyphs">70</text>
<line x1="410.40" y1="175.40" x2="413.40" y2="175.40" stroke="#111" stroke-width="0.9" stroke-linecap="butt"/>
<text x="407.5" y="177.23600000000002" font-size="5.1" fill="#404040" text-anchor="end" textLength="5.22" lengthAdjust="spacingAndGlyphs">80</text>
<line x1="413.40" y1="227.40" x2="413.40" y2="230.80" stroke="#111" stroke-width="0.9" stroke-linecap="butt"/>
<text x="413.4" y="238.3" font-size="5.5" fill="#404040" text-anchor="middle" textLength="2.81" lengthAdjust="spacingAndGlyphs">0</text>
<line x1="419.04" y1="227.40" x2="419.04" y2="229.30" stroke="#111" stroke-width="0.9" stroke-linecap="butt"/>
<line x1="424.68" y1="227.40" x2="424.68" y2="230.80" stroke="#111" stroke-width="0.9" stroke-linecap="butt"/>
<text x="424.67999999999995" y="238.3" font-size="5.5" fill="#404040" text-anchor="middle" textLength="2.81" lengthAdjust="spacingAndGlyphs">2</text>
<line x1="430.32" y1="227.40" x2="430.32" y2="229.30" stroke="#111" stroke-width="0.9" stroke-linecap="butt"/>
<line x1="435.96" y1="227.40" x2="435.96" y2="230.80" stroke="#111" stroke-width="0.9" stroke-linecap="butt"/>
<text x="435.96" y="238.3" font-size="5.5" fill="#404040" text-anchor="middle" textLength="2.81" lengthAdjust="spacingAndGlyphs">4</text>
<line x1="441.60" y1="227.40" x2="441.60" y2="229.30" stroke="#111" stroke-width="0.9" stroke-linecap="butt"/>
<line x1="447.24" y1="227.40" x2="447.24" y2="230.80" stroke="#111" stroke-width="0.9" stroke-linecap="butt"/>
<text x="447.23999999999995" y="238.3" font-size="5.5" fill="#404040" text-anchor="middle" textLength="2.81" lengthAdjust="spacingAndGlyphs">6</text>
<line x1="452.88" y1="227.40" x2="452.88" y2="229.30" stroke="#111" stroke-width="0.9" stroke-linecap="butt"/>
<line x1="458.52" y1="227.40" x2="458.52" y2="230.80" stroke="#111" stroke-width="0.9" stroke-linecap="butt"/>
<text x="458.52" y="238.3" font-size="5.5" fill="#404040" text-anchor="middle" textLength="2.81" lengthAdjust="spacingAndGlyphs">8</text>
<line x1="464.16" y1="227.40" x2="464.16" y2="229.30" stroke="#111" stroke-width="0.9" stroke-linecap="butt"/>
<line x1="469.80" y1="227.40" x2="469.80" y2="230.80" stroke="#111" stroke-width="0.9" stroke-linecap="butt"/>
<text x="469.79999999999995" y="238.3" font-size="5.5" fill="#404040" text-anchor="middle" textLength="5.63" lengthAdjust="spacingAndGlyphs">10</text>
<line x1="475.44" y1="227.40" x2="475.44" y2="229.30" stroke="#111" stroke-width="0.9" stroke-linecap="butt"/>
<line x1="481.08" y1="227.40" x2="481.08" y2="230.80" stroke="#111" stroke-width="0.9" stroke-linecap="butt"/>
<text x="481.08" y="238.3" font-size="5.5" fill="#404040" text-anchor="middle" textLength="5.63" lengthAdjust="spacingAndGlyphs">12</text>
<line x1="486.72" y1="227.40" x2="486.72" y2="229.30" stroke="#111" stroke-width="0.9" stroke-linecap="butt"/>
<line x1="492.36" y1="227.40" x2="492.36" y2="230.80" stroke="#111" stroke-width="0.9" stroke-linecap="butt"/>
<text x="492.35999999999996" y="238.3" font-size="5.5" fill="#404040" text-anchor="middle" textLength="5.63" lengthAdjust="spacingAndGlyphs">14</text>
<line x1="498.00" y1="227.40" x2="498.00" y2="229.30" stroke="#111" stroke-width="0.9" stroke-linecap="butt"/>
<line x1="503.64" y1="227.40" x2="503.64" y2="230.80" stroke="#111" stroke-width="0.9" stroke-linecap="butt"/>
<text x="503.64" y="238.3" font-size="5.5" fill="#404040" text-anchor="middle" textLength="5.63" lengthAdjust="spacingAndGlyphs">16</text>
<line x1="509.28" y1="227.40" x2="509.28" y2="229.30" stroke="#111" stroke-width="0.9" stroke-linecap="butt"/>
<polyline points="486.72,203.68 498.00,204.00 503.64,227.40" fill="none" stroke="#d8d8d8" stroke-width="0.8" stroke-dasharray="1.2,0.8" stroke-linejoin="round"/>
<polyline points="413.40,220.25 430.32,214.72 452.88,222.85 481.08,227.40" fill="none" stroke="#d47a3a" stroke-width="1.0" stroke-linejoin="round"/>
<circle cx="413.40" cy="220.25" r="0.95" fill="#d47a3a"/>
<circle cx="430.32" cy="214.72" r="0.95" fill="#d47a3a"/>
<circle cx="452.88" cy="222.85" r="0.95" fill="#d47a3a"/>
<circle cx="481.08" cy="227.40" r="0.95" fill="#d47a3a"/>
<polyline points="413.40,213.75 430.32,220.38 452.88,208.42 481.08,215.18 503.64,227.40" fill="none" stroke="#f0a53c" stroke-width="1.0" stroke-linejoin="round"/>
<circle cx="413.40" cy="213.75" r="0.95" fill="#f0a53c"/>
<circle cx="430.32" cy="220.38" r="0.95" fill="#f0a53c"/>
<circle cx="452.88" cy="208.42" r="0.95" fill="#f0a53c"/>
<circle cx="481.08" cy="215.18" r="0.95" fill="#f0a53c"/>
<circle cx="503.64" cy="227.40" r="0.95" fill="#f0a53c"/>
<polyline points="413.40,204.00 430.32,197.18 452.88,203.09 486.72,215.83 503.64,227.40" fill="none" stroke="#79bf55" stroke-width="1.0" stroke-linejoin="round"/>
<circle cx="413.40" cy="204.00" r="0.95" fill="#79bf55"/>
<circle cx="430.32" cy="197.18" r="0.95" fill="#79bf55"/>
<circle cx="452.88" cy="203.09" r="0.95" fill="#79bf55"/>
<circle cx="486.72" cy="215.83" r="0.95" fill="#79bf55"/>
<circle cx="503.64" cy="227.40" r="0.95" fill="#79bf55"/>
<polyline points="413.40,203.68 419.04,208.55 424.68,204.78 430.32,202.70 452.88,203.09 459.08,205.30 481.08,227.40 486.72,215.83 503.64,227.40" fill="none" stroke="#3a7d5c" stroke-width="1.0" stroke-linejoin="round"/>
<circle cx="413.40" cy="203.68" r="0.95" fill="#3a7d5c"/>
<circle cx="419.04" cy="208.55" r="0.95" fill="#3a7d5c"/>
<circle cx="424.68" cy="204.78" r="0.95" fill="#3a7d5c"/>
<circle cx="430.32" cy="202.70" r="0.95" fill="#3a7d5c"/>
<circle cx="452.88" cy="203.09" r="0.95" fill="#3a7d5c"/>
<circle cx="459.08" cy="205.30" r="0.95" fill="#3a7d5c"/>
<circle cx="481.08" cy="227.40" r="0.95" fill="#3a7d5c"/>
<circle cx="486.72" cy="215.83" r="0.95" fill="#3a7d5c"/>
<circle cx="503.64" cy="227.40" r="0.95" fill="#3a7d5c"/>
<polyline points="413.40,218.95 419.04,217.91 424.68,222.20 430.32,225.71 452.88,208.03 458.52,213.75 481.08,227.40 486.72,211.61 503.64,227.40" fill="none" stroke="#b3323f" stroke-width="1.1" stroke-linejoin="round"/>
<circle cx="413.40" cy="218.95" r="0.95" fill="#b3323f"/>
<circle cx="419.04" cy="217.91" r="0.95" fill="#b3323f"/>
<circle cx="424.68" cy="222.20" r="0.95" fill="#b3323f"/>
<circle cx="430.32" cy="225.71" r="0.95" fill="#b3323f"/>
<circle cx="452.88" cy="208.03" r="0.95" fill="#b3323f"/>
<circle cx="458.52" cy="213.75" r="0.95" fill="#b3323f"/>
<circle cx="481.08" cy="227.40" r="0.95" fill="#b3323f"/>
<circle cx="486.72" cy="211.61" r="0.95" fill="#b3323f"/>
<circle cx="503.64" cy="227.40" r="0.95" fill="#b3323f"/>
<circle cx="413.40" cy="215.90" r="0.9" fill="#2c4a8c"/>
<circle cx="419.04" cy="224.28" r="0.9" fill="#2c4a8c"/>
<circle cx="424.68" cy="227.21" r="0.9" fill="#2c4a8c"/>
<circle cx="430.32" cy="225.71" r="0.9" fill="#2c4a8c"/>
<circle cx="452.88" cy="214.40" r="0.9" fill="#2c4a8c"/>
<circle cx="457.96" cy="227.40" r="0.9" fill="#2c4a8c"/>
<circle cx="486.72" cy="227.40" r="0.9" fill="#2c4a8c"/>
<circle cx="486.72" cy="196.20" r="0.9" fill="#2c4a8c"/>
<circle cx="498.00" cy="182.55" r="0.9" fill="#2c4a8c"/>
<circle cx="503.64" cy="227.40" r="0.9" fill="#2c4a8c"/>
<text x="462.7" y="249.5" font-size="7.6" fill="#000" text-anchor="middle" textLength="46.5" lengthAdjust="spacingAndGlyphs" stroke="#000" stroke-width="0.2">Time (months)</text>
<text x="395.2" y="200.6" font-size="7.2" fill="#000" text-anchor="middle" textLength="48" lengthAdjust="spacingAndGlyphs" transform="rotate(-90 395.2 200.6)">Percentage (%)</text>
<text x="461.3" y="189.5" font-size="4.6" fill="#6a6a6a" text-anchor="middle" textLength="15.2" lengthAdjust="spacingAndGlyphs">Allo-SCT</text>
<text x="461.5" y="194.8" font-size="4.6" fill="#6a6a6a" text-anchor="middle" textLength="20.7" lengthAdjust="spacingAndGlyphs">(FluBuATG)</text>
<line x1="459.10" y1="195.60" x2="459.10" y2="198.20" stroke="#111" stroke-width="1.1" stroke-linecap="butt"/>
<polygon points="459.10,202.00 457.30,198.20 460.90,198.20" fill="#111"/>
<line x1="418.00" y1="258.30" x2="418.00" y2="257.30" stroke="#111" stroke-width="1.1" stroke-linecap="butt"/>
<polygon points="418.00,253.50 416.20,257.30 419.80,257.30" fill="#111"/>
<text x="414.6" y="265" font-size="5.3" fill="#111" text-anchor="middle" textLength="13.2" lengthAdjust="spacingAndGlyphs" stroke="#111" stroke-width="0.12">BIDFA</text>
<text x="423.5" y="266.2" font-size="2.8" fill="#111" text-anchor="middle" stroke="#111" stroke-width="0.12">x1</text>
<text x="444.5" y="258.2" font-size="5.3" fill="#111" text-anchor="middle" textLength="25" lengthAdjust="spacingAndGlyphs" stroke="#111" stroke-width="0.12">Decitabine</text>
<text x="458.5" y="259.4" font-size="2.8" fill="#111" text-anchor="middle" stroke="#111" stroke-width="0.12">x1</text>
<line x1="444.80" y1="246.30" x2="444.80" y2="248.80" stroke="#111" stroke-width="1.1" stroke-linecap="butt"/>
<polygon points="444.80,252.60 443.00,248.80 446.60,248.80" fill="#111"/>
<line x1="434.40" y1="262.50" x2="452.35" y2="262.50" stroke="#111" stroke-width="1.1" stroke-linecap="butt"/>
<polygon points="430.50,262.50 434.40,260.75 434.40,264.25" fill="#111"/>
<polygon points="456.25,262.50 452.35,260.75 452.35,264.25" fill="#111"/>
<text x="447.25" y="270.5" font-size="5.3" fill="#111" text-anchor="middle" textLength="30.5" lengthAdjust="spacingAndGlyphs" stroke="#111" stroke-width="0.12">Eltrombopag</text>
<line x1="489.40" y1="262.50" x2="497.35" y2="262.50" stroke="#111" stroke-width="1.1" stroke-linecap="butt"/>
<polygon points="485.50,262.50 489.40,260.75 489.40,264.25" fill="#111"/>
<polygon points="501.25,262.50 497.35,260.75 497.35,264.25" fill="#111"/>
<line x1="505.65" y1="262.50" x2="508.60" y2="262.50" stroke="#111" stroke-width="1.1" stroke-linecap="butt"/>
<polygon points="501.75,262.50 505.65,260.75 505.65,264.25" fill="#111"/>
<polygon points="512.50,262.50 508.60,260.75 508.60,264.25" fill="#111"/>
<text x="490.25" y="270.5" font-size="5.3" fill="#111" text-anchor="middle" textLength="19.5" lengthAdjust="spacingAndGlyphs" stroke="#111" stroke-width="0.12">BVD-523</text>
<text x="507.9" y="270.5" font-size="5.3" fill="#111" text-anchor="middle" textLength="6.8" lengthAdjust="spacingAndGlyphs" stroke="#111" stroke-width="0.12">DV</text>
<text x="81.3" y="304" font-size="7.9" fill="#111" text-anchor="middle" textLength="22" lengthAdjust="spacingAndGlyphs">UPN23</text>
<circle cx="25.35" cy="284.40" r="0.8" fill="#2c4a8c"/>
<text x="28.75" y="285.8" font-size="5.0" fill="#585858" text-anchor="start" textLength="10.76" lengthAdjust="spacingAndGlyphs">Blasts</text>
<line x1="45.40" y1="284.30" x2="48.50" y2="284.30" stroke="#b3323f" stroke-width="1.2" stroke-linecap="butt"/>
<text x="51.0" y="285.8" font-size="5.0" fill="#585858" text-anchor="start" textLength="25.46" lengthAdjust="spacingAndGlyphs">NPM1 W288fs</text>
<line x1="82.65" y1="284.30" x2="85.75" y2="284.30" stroke="#3a7d5c" stroke-width="1.2" stroke-linecap="butt"/>
<text x="88.25" y="285.8" font-size="5.0" fill="#585858" text-anchor="start" textLength="22.39" lengthAdjust="spacingAndGlyphs">NRAS G12D</text>
<line x1="23.85" y1="291.40" x2="27.45" y2="291.40" stroke="#c8c8c8" stroke-width="0.8" stroke-linecap="butt"/>
<text x="29.75" y="292.8" font-size="5.0" fill="#585858" text-anchor="start" textLength="12.41" lengthAdjust="spacingAndGlyphs">CD34+</text>
<line x1="45.40" y1="291.30" x2="48.50" y2="291.30" stroke="#f0a53c" stroke-width="1.2" stroke-linecap="butt"/>
<text x="51.0" y="292.8" font-size="5.0" fill="#585858" text-anchor="start" textLength="25.03" lengthAdjust="spacingAndGlyphs">TET2 C1378Y</text>
<polygon points="31.75,363.75 31.75,350.10 47.75,359.55 63.75,362.70 79.75,363.75 111.75,362.70 111.75,363.75" fill="#989cbc" stroke="#8a8dbb" stroke-width="0.4"/>
<line x1="31.75" y1="308.45" x2="31.75" y2="364.45" stroke="#111" stroke-width="1.4" stroke-linecap="butt"/>
<line x1="31.05" y1="363.75" x2="130.00" y2="363.75" stroke="#111" stroke-width="1.4" stroke-linecap="butt"/>
<line x1="28.75" y1="363.75" x2="31.75" y2="363.75" stroke="#111" stroke-width="0.9" stroke-linecap="butt"/>
<text x="25.85" y="365.766" font-size="5.6" fill="#404040" text-anchor="end" textLength="2.87" lengthAdjust="spacingAndGlyphs">0</text>
<line x1="28.75" y1="353.25" x2="31.75" y2="353.25" stroke="#111" stroke-width="0.9" stroke-linecap="butt"/>
<text x="25.85" y="355.266" font-size="5.6" fill="#404040" text-anchor="end" textLength="5.73" lengthAdjust="spacingAndGlyphs">10</text>
<line x1="28.75" y1="342.75" x2="31.75" y2="342.75" stroke="#111" stroke-width="0.9" stroke-linecap="butt"/>
<text x="25.85" y="344.766" font-size="5.6" fill="#404040" text-anchor="end" textLength="5.73" lengthAdjust="spacingAndGlyphs">20</text>
<line x1="28.75" y1="332.25" x2="31.75" y2="332.25" stroke="#111" stroke-width="0.9" stroke-linecap="butt"/>
<text x="25.85" y="334.266" font-size="5.6" fill="#404040" text-anchor="end" textLength="5.73" lengthAdjust="spacingAndGlyphs">30</text>
<line x1="28.75" y1="321.75" x2="31.75" y2="321.75" stroke="#111" stroke-width="0.9" stroke-linecap="butt"/>
<text x="25.85" y="323.766" font-size="5.6" fill="#404040" text-anchor="end" textLength="5.73" lengthAdjust="spacingAndGlyphs">40</text>
<line x1="28.75" y1="311.25" x2="31.75" y2="311.25" stroke="#111" stroke-width="0.9" stroke-linecap="butt"/>
<text x="25.85" y="313.266" font-size="5.6" fill="#404040" text-anchor="end" textLength="5.73" lengthAdjust="spacingAndGlyphs">50</text>
<line x1="31.75" y1="363.75" x2="31.75" y2="367.15" stroke="#111" stroke-width="0.9" stroke-linecap="butt"/>
<text x="31.75" y="374.65" font-size="5.5" fill="#404040" text-anchor="middle" textLength="2.81" lengthAdjust="spacingAndGlyphs">0</text>
<line x1="47.75" y1="363.75" x2="47.75" y2="365.65" stroke="#111" stroke-width="0.9" stroke-linecap="butt"/>
<line x1="63.75" y1="363.75" x2="63.75" y2="367.15" stroke="#111" stroke-width="0.9" stroke-linecap="butt"/>
<text x="63.75" y="374.65" font-size="5.5" fill="#404040" text-anchor="middle" textLength="2.81" lengthAdjust="spacingAndGlyphs">2</text>
<line x1="79.75" y1="363.75" x2="79.75" y2="365.65" stroke="#111" stroke-width="0.9" stroke-linecap="butt"/>
<line x1="95.75" y1="363.75" x2="95.75" y2="367.15" stroke="#111" stroke-width="0.9" stroke-linecap="butt"/>
<text x="95.75" y="374.65" font-size="5.5" fill="#404040" text-anchor="middle" textLength="2.81" lengthAdjust="spacingAndGlyphs">4</text>
<line x1="111.75" y1="363.75" x2="111.75" y2="365.65" stroke="#111" stroke-width="0.9" stroke-linecap="butt"/>
<line x1="127.75" y1="363.75" x2="127.75" y2="367.15" stroke="#111" stroke-width="0.9" stroke-linecap="butt"/>
<text x="127.75" y="374.65" font-size="5.5" fill="#404040" text-anchor="middle" textLength="2.81" lengthAdjust="spacingAndGlyphs">6</text>
<polyline points="31.75,358.50 47.75,360.60" fill="none" stroke="#d8d8d8" stroke-width="0.8" stroke-dasharray="1.2,0.8" stroke-linejoin="round"/>
<polyline points="47.75,363.75 111.75,363.75" fill="none" stroke="#b3323f" stroke-width="0.8" stroke-dasharray="1,0.8" stroke-linejoin="round"/>
<polyline points="31.75,332.25 63.75,363.75" fill="none" stroke="#3a7d5c" stroke-width="1.0" stroke-linejoin="round"/>
<circle cx="31.75" cy="332.25" r="0.95" fill="#3a7d5c"/>
<circle cx="63.75" cy="363.75" r="0.95" fill="#3a7d5c"/>
<polyline points="31.75,321.23 63.75,363.75" fill="none" stroke="#f0a53c" stroke-width="1.0" stroke-linejoin="round"/>
<circle cx="31.75" cy="321.23" r="0.95" fill="#f0a53c"/>
<circle cx="63.75" cy="363.75" r="0.95" fill="#f0a53c"/>
<polyline points="31.75,329.10 47.75,363.75" fill="none" stroke="#b3323f" stroke-width="1.1" stroke-linejoin="round"/>
<circle cx="31.75" cy="329.10" r="0.95" fill="#b3323f"/>
<circle cx="47.75" cy="363.75" r="0.95" fill="#b3323f"/>
<circle cx="31.75" cy="350.10" r="0.9" fill="#2c4a8c"/>
<circle cx="47.75" cy="359.55" r="0.9" fill="#2c4a8c"/>
<circle cx="63.75" cy="362.70" r="0.9" fill="#2c4a8c"/>
<circle cx="79.75" cy="363.75" r="0.9" fill="#2c4a8c"/>
<circle cx="111.75" cy="362.70" r="0.9" fill="#2c4a8c"/>
<text x="80.9" y="385.5" font-size="7.6" fill="#000" text-anchor="middle" textLength="46.5" lengthAdjust="spacingAndGlyphs" stroke="#000" stroke-width="0.2">Time (months)</text>
<text x="13.5" y="336.7" font-size="7.2" fill="#000" text-anchor="middle" textLength="48" lengthAdjust="spacingAndGlyphs" transform="rotate(-90 13.5 336.7)">Percentage (%)</text>
<line x1="36.25" y1="391.30" x2="36.25" y2="389.10" stroke="#111" stroke-width="1.1" stroke-linecap="butt"/>
<polygon points="36.25,385.30 34.45,389.10 38.05,389.10" fill="#111"/>
<line x1="52.50" y1="391.30" x2="52.50" y2="389.10" stroke="#111" stroke-width="1.1" stroke-linecap="butt"/>
<polygon points="52.50,385.30 50.70,389.10 54.30,389.10" fill="#111"/>
<text x="31.9" y="398.5" font-size="5.3" fill="#111" text-anchor="middle" textLength="11.2" lengthAdjust="spacingAndGlyphs" stroke="#111" stroke-width="0.12">CLIA</text>
<text x="39.5" y="399.7" font-size="2.8" fill="#111" text-anchor="middle" stroke="#111" stroke-width="0.12">x1</text>
<text x="55.25" y="398.5" font-size="5.3" fill="#111" text-anchor="middle" textLength="24.5" lengthAdjust="spacingAndGlyphs" stroke="#111" stroke-width="0.12">Decitabine</text>
<text x="69.5" y="399.7" font-size="2.8" fill="#111" text-anchor="middle" stroke="#111" stroke-width="0.12">x1</text>
<text x="71.3" y="348.8" font-size="4.6" fill="#6a6a6a" text-anchor="middle" textLength="15.2" lengthAdjust="spacingAndGlyphs">Allo-SCT</text>
<text x="71.5" y="354.2" font-size="4.6" fill="#6a6a6a" text-anchor="middle" textLength="20.2" lengthAdjust="spacingAndGlyphs">(FluMelCy)</text>
<line x1="69.10" y1="355.00" x2="69.10" y2="357.20" stroke="#111" stroke-width="1.1" stroke-linecap="butt"/>
<polygon points="69.10,361.00 67.30,357.20 70.90,357.20" fill="#111"/>
<text x="208" y="304" font-size="7.9" fill="#111" text-anchor="middle" textLength="22" lengthAdjust="spacingAndGlyphs">UPN24</text>
<circle cx="142.10" cy="284.40" r="0.8" fill="#2c4a8c"/>
<text x="145.5" y="285.8" font-size="5.0" fill="#585858" text-anchor="start" textLength="10.76" lengthAdjust="spacingAndGlyphs">Blasts</text>
<line x1="172.90" y1="284.30" x2="176.00" y2="284.30" stroke="#b3323f" stroke-width="1.2" stroke-linecap="butt"/>
<text x="178.5" y="285.8" font-size="5.0" fill="#585858" text-anchor="start" textLength="31.39" lengthAdjust="spacingAndGlyphs">NPM1 W288fs*12</text>
<line x1="218.90" y1="284.30" x2="222.00" y2="284.30" stroke="#3a7d5c" stroke-width="1.2" stroke-linecap="butt"/>
<text x="224.5" y="285.8" font-size="5.0" fill="#585858" text-anchor="start" textLength="22.39" lengthAdjust="spacingAndGlyphs">NRAS G12D</text>
<line x1="140.90" y1="291.30" x2="144.00" y2="291.30" stroke="#74457f" stroke-width="1.2" stroke-linecap="butt"/>
<text x="146.5" y="292.8" font-size="5.0" fill="#585858" text-anchor="start" textLength="22.39" lengthAdjust="spacingAndGlyphs">IDH1 R132C</text>
<line x1="172.90" y1="291.30" x2="176.00" y2="291.30" stroke="#79bf55" stroke-width="1.2" stroke-linecap="butt"/>
<text x="178.5" y="292.8" font-size="5.0" fill="#585858" text-anchor="start" textLength="29.2" lengthAdjust="spacingAndGlyphs">DNMT3A F414fs</text>
<line x1="218.90" y1="291.30" x2="222.00" y2="291.30" stroke="#f0a53c" stroke-width="1.2" stroke-linecap="butt"/>
<text x="224.5" y="292.8" font-size="5.0" fill="#585858" text-anchor="start" textLength="22.61" lengthAdjust="spacingAndGlyphs">IDH2 R140Q</text>
<polygon points="158.75,363.75 158.75,354.45 166.11,357.19 168.82,358.68 176.57,357.83 185.88,354.65 195.18,360.76 211.45,343.86 221.14,339.18 231.21,338.14 240.51,362.84 247.49,325.46 248.26,363.75 248.26,363.75" fill="#989cbc" stroke="#8a8dbb" stroke-width="0.4"/>
<line x1="158.75" y1="308.95" x2="158.75" y2="364.45" stroke="#111" stroke-width="1.4" stroke-linecap="butt"/>
<line x1="158.05" y1="363.75" x2="255.00" y2="363.75" stroke="#111" stroke-width="1.4" stroke-linecap="butt"/>
<line x1="155.75" y1="363.75" x2="158.75" y2="363.75" stroke="#111" stroke-width="0.9" stroke-linecap="butt"/>
<text x="152.85" y="365.586" font-size="5.1" fill="#404040" text-anchor="end" textLength="2.61" lengthAdjust="spacingAndGlyphs">0</text>
<line x1="155.75" y1="357.25" x2="158.75" y2="357.25" stroke="#111" stroke-width="0.9" stroke-linecap="butt"/>
<text x="152.85" y="359.086" font-size="5.1" fill="#404040" text-anchor="end" textLength="5.22" lengthAdjust="spacingAndGlyphs">10</text>
<line x1="155.75" y1="350.75" x2="158.75" y2="350.75" stroke="#111" stroke-width="0.9" stroke-linecap="butt"/>
<text x="152.85" y="352.586" font-size="5.1" fill="#404040" text-anchor="end" textLength="5.22" lengthAdjust="spacingAndGlyphs">20</text>
<line x1="155.75" y1="344.25" x2="158.75" y2="344.25" stroke="#111" stroke-width="0.9" stroke-linecap="butt"/>
<text x="152.85" y="346.086" font-size="5.1" fill="#404040" text-anchor="end" textLength="5.22" lengthAdjust="spacingAndGlyphs">30</text>
<line x1="155.75" y1="337.75" x2="158.75" y2="337.75" stroke="#111" stroke-width="0.9" stroke-linecap="butt"/>
<text x="152.85" y="339.586" font-size="5.1" fill="#404040" text-anchor="end" textLength="5.22" lengthAdjust="spacingAndGlyphs">40</text>
<line x1="155.75" y1="331.25" x2="158.75" y2="331.25" stroke="#111" stroke-width="0.9" stroke-linecap="butt"/>
<text x="152.85" y="333.086" font-size="5.1" fill="#404040" text-anchor="end" textLength="5.22" lengthAdjust="spacingAndGlyphs">50</text>
<line x1="155.75" y1="324.75" x2="158.75" y2="324.75" stroke="#111" stroke-width="0.9" stroke-linecap="butt"/>
<text x="152.85" y="326.586" font-size="5.1" fill="#404040" text-anchor="end" textLength="5.22" lengthAdjust="spacingAndGlyphs">60</text>
<line x1="155.75" y1="318.25" x2="158.75" y2="318.25" stroke="#111" stroke-width="0.9" stroke-linecap="butt"/>
<text x="152.85" y="320.086" font-size="5.1" fill="#404040" text-anchor="end" textLength="5.22" lengthAdjust="spacingAndGlyphs">70</text>
<line x1="155.75" y1="311.75" x2="158.75" y2="311.75" stroke="#111" stroke-width="0.9" stroke-linecap="butt"/>
<text x="152.85" y="313.586" font-size="5.1" fill="#404040" text-anchor="end" textLength="5.22" lengthAdjust="spacingAndGlyphs">80</text>
<line x1="158.75" y1="363.75" x2="158.75" y2="367.15" stroke="#111" stroke-width="0.9" stroke-linecap="butt"/>
<text x="158.75" y="374.65" font-size="5.5" fill="#404040" text-anchor="middle" textLength="2.81" lengthAdjust="spacingAndGlyphs">0</text>
<line x1="162.62" y1="363.75" x2="162.62" y2="365.65" stroke="#111" stroke-width="0.9" stroke-linecap="butt"/>
<line x1="166.50" y1="363.75" x2="166.50" y2="367.15" stroke="#111" stroke-width="0.9" stroke-linecap="butt"/>
<text x="166.5" y="374.65" font-size="5.5" fill="#404040" text-anchor="middle" textLength="2.81" lengthAdjust="spacingAndGlyphs">2</text>
<line x1="170.38" y1="363.75" x2="170.38" y2="365.65" stroke="#111" stroke-width="0.9" stroke-linecap="butt"/>
<line x1="174.25" y1="363.75" x2="174.25" y2="367.15" stroke="#111" stroke-width="0.9" stroke-linecap="butt"/>
<text x="174.25" y="374.65" font-size="5.5" fill="#404040" text-anchor="middle" textLength="2.81" lengthAdjust="spacingAndGlyphs">4</text>
<line x1="178.12" y1="363.75" x2="178.12" y2="365.65" stroke="#111" stroke-width="0.9" stroke-linecap="butt"/>
<line x1="182.00" y1="363.75" x2="182.00" y2="367.15" stroke="#111" stroke-width="0.9" stroke-linecap="butt"/>
<text x="182.0" y="374.65" font-size="5.5" fill="#404040" text-anchor="middle" textLength="2.81" lengthAdjust="spacingAndGlyphs">6</text>
<line x1="185.88" y1="363.75" x2="185.88" y2="365.65" stroke="#111" stroke-width="0.9" stroke-linecap="butt"/>
<line x1="189.75" y1="363.75" x2="189.75" y2="367.15" stroke="#111" stroke-width="0.9" stroke-linecap="butt"/>
<text x="189.75" y="374.65" font-size="5.5" fill="#404040" text-anchor="middle" textLength="2.81" lengthAdjust="spacingAndGlyphs">8</text>
<line x1="193.62" y1="363.75" x2="193.62" y2="365.65" stroke="#111" stroke-width="0.9" stroke-linecap="butt"/>
<line x1="197.50" y1="363.75" x2="197.50" y2="367.15" stroke="#111" stroke-width="0.9" stroke-linecap="butt"/>
<text x="197.5" y="374.65" font-size="5.5" fill="#404040" text-anchor="middle" textLength="5.63" lengthAdjust="spacingAndGlyphs">10</text>
<line x1="201.38" y1="363.75" x2="201.38" y2="365.65" stroke="#111" stroke-width="0.9" stroke-linecap="butt"/>
<line x1="205.25" y1="363.75" x2="205.25" y2="367.15" stroke="#111" stroke-width="0.9" stroke-linecap="butt"/>
<text x="205.25" y="374.65" font-size="5.5" fill="#404040" text-anchor="middle" textLength="5.63" lengthAdjust="spacingAndGlyphs">12</text>
<line x1="209.12" y1="363.75" x2="209.12" y2="365.65" stroke="#111" stroke-width="0.9" stroke-linecap="butt"/>
<line x1="213.00" y1="363.75" x2="213.00" y2="367.15" stroke="#111" stroke-width="0.9" stroke-linecap="butt"/>
<text x="213.0" y="374.65" font-size="5.5" fill="#404040" text-anchor="middle" textLength="5.63" lengthAdjust="spacingAndGlyphs">14</text>
<line x1="216.88" y1="363.75" x2="216.88" y2="365.65" stroke="#111" stroke-width="0.9" stroke-linecap="butt"/>
<line x1="220.75" y1="363.75" x2="220.75" y2="367.15" stroke="#111" stroke-width="0.9" stroke-linecap="butt"/>
<text x="220.75" y="374.65" font-size="5.5" fill="#404040" text-anchor="middle" textLength="5.63" lengthAdjust="spacingAndGlyphs">16</text>
<line x1="224.62" y1="363.75" x2="224.62" y2="365.65" stroke="#111" stroke-width="0.9" stroke-linecap="butt"/>
<line x1="228.50" y1="363.75" x2="228.50" y2="367.15" stroke="#111" stroke-width="0.9" stroke-linecap="butt"/>
<text x="228.5" y="374.65" font-size="5.5" fill="#404040" text-anchor="middle" textLength="5.63" lengthAdjust="spacingAndGlyphs">18</text>
<line x1="232.38" y1="363.75" x2="232.38" y2="365.65" stroke="#111" stroke-width="0.9" stroke-linecap="butt"/>
<line x1="236.25" y1="363.75" x2="236.25" y2="367.15" stroke="#111" stroke-width="0.9" stroke-linecap="butt"/>
<text x="236.25" y="374.65" font-size="5.5" fill="#404040" text-anchor="middle" textLength="5.63" lengthAdjust="spacingAndGlyphs">20</text>
<line x1="240.12" y1="363.75" x2="240.12" y2="365.65" stroke="#111" stroke-width="0.9" stroke-linecap="butt"/>
<line x1="244.00" y1="363.75" x2="244.00" y2="367.15" stroke="#111" stroke-width="0.9" stroke-linecap="butt"/>
<text x="244.0" y="374.65" font-size="5.5" fill="#404040" text-anchor="middle" textLength="5.63" lengthAdjust="spacingAndGlyphs">22</text>
<line x1="247.88" y1="363.75" x2="247.88" y2="365.65" stroke="#111" stroke-width="0.9" stroke-linecap="butt"/>
<line x1="251.75" y1="363.75" x2="251.75" y2="367.15" stroke="#111" stroke-width="0.9" stroke-linecap="butt"/>
<text x="251.75" y="374.65" font-size="5.5" fill="#404040" text-anchor="middle" textLength="5.63" lengthAdjust="spacingAndGlyphs">24</text>
<polyline points="158.75,338.14 211.45,332.42 247.49,338.14" fill="none" stroke="#3a7d5c" stroke-width="1.0" stroke-linejoin="round"/>
<circle cx="158.75" cy="338.14" r="0.95" fill="#3a7d5c"/>
<circle cx="211.45" cy="332.42" r="0.95" fill="#3a7d5c"/>
<circle cx="247.49" cy="338.14" r="0.95" fill="#3a7d5c"/>
<polyline points="158.75,339.18 211.45,339.83 247.49,340.22" fill="none" stroke="#b3323f" stroke-width="1.1" stroke-linejoin="round"/>
<circle cx="158.75" cy="339.18" r="0.95" fill="#b3323f"/>
<circle cx="211.45" cy="339.83" r="0.95" fill="#b3323f"/>
<circle cx="247.49" cy="340.22" r="0.95" fill="#b3323f"/>
<polyline points="211.45,345.55 247.49,360.76" fill="none" stroke="#74457f" stroke-width="1.0" stroke-linejoin="round"/>
<circle cx="211.45" cy="345.55" r="0.95" fill="#74457f"/>
<circle cx="247.49" cy="360.76" r="0.95" fill="#74457f"/>
<polyline points="211.45,358.88 247.49,356.14" fill="none" stroke="#f0a53c" stroke-width="1.0" stroke-linejoin="round"/>
<circle cx="211.45" cy="358.88" r="0.95" fill="#f0a53c"/>
<circle cx="247.49" cy="356.14" r="0.95" fill="#f0a53c"/>
<polyline points="211.45,335.28" fill="none" stroke="#79bf55" stroke-width="1.0" stroke-linejoin="round"/>
<circle cx="211.45" cy="335.28" r="0.95" fill="#79bf55"/>
<circle cx="158.75" cy="354.45" r="0.9" fill="#2c4a8c"/>
<circle cx="166.11" cy="357.19" r="0.9" fill="#2c4a8c"/>
<circle cx="168.82" cy="358.68" r="0.9" fill="#2c4a8c"/>
<circle cx="176.57" cy="357.83" r="0.9" fill="#2c4a8c"/>
<circle cx="185.88" cy="354.65" r="0.9" fill="#2c4a8c"/>
<circle cx="195.18" cy="360.76" r="0.9" fill="#2c4a8c"/>
<circle cx="211.45" cy="343.86" r="0.9" fill="#2c4a8c"/>
<circle cx="221.14" cy="339.18" r="0.9" fill="#2c4a8c"/>
<circle cx="231.21" cy="338.14" r="0.9" fill="#2c4a8c"/>
<circle cx="240.51" cy="362.84" r="0.9" fill="#2c4a8c"/>
<circle cx="247.49" cy="325.46" r="0.9" fill="#2c4a8c"/>
<circle cx="248.26" cy="363.75" r="0.9" fill="#2c4a8c"/>
<text x="208" y="385.5" font-size="7.6" fill="#000" text-anchor="middle" textLength="46.5" lengthAdjust="spacingAndGlyphs" stroke="#000" stroke-width="0.2">Time (months)</text>
<text x="141.0" y="336.7" font-size="7.2" fill="#000" text-anchor="middle" textLength="48" lengthAdjust="spacingAndGlyphs" transform="rotate(-90 141.0 336.7)">Percentage (%)</text>
<line x1="166.40" y1="391.75" x2="203.60" y2="391.75" stroke="#111" stroke-width="1.1" stroke-linecap="butt"/>
<polygon points="162.50,391.75 166.40,390.00 166.40,393.50" fill="#111"/>
<polygon points="207.50,391.75 203.60,390.00 203.60,393.50" fill="#111"/>
<line x1="212.65" y1="391.75" x2="251.10" y2="391.75" stroke="#111" stroke-width="1.1" stroke-linecap="butt"/>
<polygon points="208.75,391.75 212.65,390.00 212.65,393.50" fill="#111"/>
<polygon points="255.00,391.75 251.10,390.00 251.10,393.50" fill="#111"/>
<text x="187.25" y="398.5" font-size="5.3" fill="#111" text-anchor="middle" textLength="25.5" lengthAdjust="spacingAndGlyphs" stroke="#111" stroke-width="0.12">Azacitidine</text>
<text x="232" y="398.5" font-size="5.3" fill="#111" text-anchor="middle" textLength="25" lengthAdjust="spacingAndGlyphs" stroke="#111" stroke-width="0.12">Decitabine</text>
<text x="336.3" y="304" font-size="7.9" fill="#111" text-anchor="middle" textLength="22" lengthAdjust="spacingAndGlyphs">UPN25</text>
<circle cx="265.10" cy="284.40" r="0.8" fill="#2c4a8c"/>
<text x="268.5" y="285.8" font-size="5.0" fill="#585858" text-anchor="start" textLength="10.76" lengthAdjust="spacingAndGlyphs">Blasts</text>
<line x1="295.90" y1="284.30" x2="299.00" y2="284.30" stroke="#b3323f" stroke-width="1.2" stroke-linecap="butt"/>
<text x="301.5" y="285.8" font-size="5.0" fill="#585858" text-anchor="start" textLength="31.39" lengthAdjust="spacingAndGlyphs">NPM1 W288fs*12</text>
<line x1="342.15" y1="284.30" x2="345.25" y2="284.30" stroke="#3a7d5c" stroke-width="1.2" stroke-linecap="butt"/>
<text x="347.75" y="285.8" font-size="5.0" fill="#585858" text-anchor="start" textLength="29.41" lengthAdjust="spacingAndGlyphs">DNMT3A R882H</text>
<line x1="263.90" y1="291.30" x2="267.00" y2="291.30" stroke="#74457f" stroke-width="1.2" stroke-linecap="butt"/>
<text x="269.5" y="292.8" font-size="5.0" fill="#585858" text-anchor="start" textLength="22.39" lengthAdjust="spacingAndGlyphs">IDH1 R132C</text>
<line x1="295.90" y1="291.30" x2="299.00" y2="291.30" stroke="#79bf55" stroke-width="1.2" stroke-linecap="butt"/>
<text x="301.5" y="292.8" font-size="5.0" fill="#585858" text-anchor="start" textLength="22.61" lengthAdjust="spacingAndGlyphs">IDH2 R140Q</text>
<line x1="342.15" y1="291.30" x2="345.25" y2="291.30" stroke="#f0a53c" stroke-width="1.2" stroke-linecap="butt"/>
<text x="347.75" y="292.8" font-size="5.0" fill="#585858" text-anchor="start" textLength="22.39" lengthAdjust="spacingAndGlyphs">IDH1 R132H</text>
<polygon points="286.75,363.75 286.75,350.62 305.12,362.44 331.38,362.09 340.12,353.95 355.00,362.44 372.06,362.88 376.00,357.62 376.00,363.75" fill="#989cbc" stroke="#8a8dbb" stroke-width="0.4"/>
<line x1="286.75" y1="308.45" x2="286.75" y2="364.45" stroke="#111" stroke-width="1.4" stroke-linecap="butt"/>
<line x1="286.05" y1="363.75" x2="383.75" y2="363.75" stroke="#111" stroke-width="1.4" stroke-linecap="butt"/>
<line x1="283.75" y1="363.75" x2="286.75" y2="363.75" stroke="#111" stroke-width="0.9" stroke-linecap="butt"/>
<text x="280.85" y="365.766" font-size="5.6" fill="#404040" text-anchor="end" textLength="2.87" lengthAdjust="spacingAndGlyphs">0</text>
<line x1="283.75" y1="355.00" x2="286.75" y2="355.00" stroke="#111" stroke-width="0.9" stroke-linecap="butt"/>
<text x="280.85" y="357.016" font-size="5.6" fill="#404040" text-anchor="end" textLength="5.73" lengthAdjust="spacingAndGlyphs">10</text>
<line x1="283.75" y1="346.25" x2="286.75" y2="346.25" stroke="#111" stroke-width="0.9" stroke-linecap="butt"/>
<text x="280.85" y="348.266" font-size="5.6" fill="#404040" text-anchor="end" textLength="5.73" lengthAdjust="spacingAndGlyphs">20</text>
<line x1="283.75" y1="337.50" x2="286.75" y2="337.50" stroke="#111" stroke-width="0.9" stroke-linecap="butt"/>
<text x="280.85" y="339.516" font-size="5.6" fill="#404040" text-anchor="end" textLength="5.73" lengthAdjust="spacingAndGlyphs">30</text>
<line x1="283.75" y1="328.75" x2="286.75" y2="328.75" stroke="#111" stroke-width="0.9" stroke-linecap="butt"/>
<text x="280.85" y="330.766" font-size="5.6" fill="#404040" text-anchor="end" textLength="5.73" lengthAdjust="spacingAndGlyphs">40</text>
<line x1="283.75" y1="320.00" x2="286.75" y2="320.00" stroke="#111" stroke-width="0.9" stroke-linecap="butt"/>
<text x="280.85" y="322.016" font-size="5.6" fill="#404040" text-anchor="end" textLength="5.73" lengthAdjust="spacingAndGlyphs">50</text>
<line x1="283.75" y1="311.25" x2="286.75" y2="311.25" stroke="#111" stroke-width="0.9" stroke-linecap="butt"/>
<text x="280.85" y="313.266" font-size="5.6" fill="#404040" text-anchor="end" textLength="5.73" lengthAdjust="spacingAndGlyphs">60</text>
<line x1="286.75" y1="363.75" x2="286.75" y2="367.15" stroke="#111" stroke-width="0.9" stroke-linecap="butt"/>
<text x="286.75" y="374.65" font-size="5.5" fill="#404040" text-anchor="middle" textLength="2.81" lengthAdjust="spacingAndGlyphs">0</text>
<line x1="295.50" y1="363.75" x2="295.50" y2="365.65" stroke="#111" stroke-width="0.9" stroke-linecap="butt"/>
<line x1="304.25" y1="363.75" x2="304.25" y2="367.15" stroke="#111" stroke-width="0.9" stroke-linecap="butt"/>
<text x="304.25" y="374.65" font-size="5.5" fill="#404040" text-anchor="middle" textLength="2.81" lengthAdjust="spacingAndGlyphs">2</text>
<line x1="313.00" y1="363.75" x2="313.00" y2="365.65" stroke="#111" stroke-width="0.9" stroke-linecap="butt"/>
<line x1="321.75" y1="363.75" x2="321.75" y2="367.15" stroke="#111" stroke-width="0.9" stroke-linecap="butt"/>
<text x="321.75" y="374.65" font-size="5.5" fill="#404040" text-anchor="middle" textLength="2.81" lengthAdjust="spacingAndGlyphs">4</text>
<line x1="330.50" y1="363.75" x2="330.50" y2="365.65" stroke="#111" stroke-width="0.9" stroke-linecap="butt"/>
<line x1="339.25" y1="363.75" x2="339.25" y2="367.15" stroke="#111" stroke-width="0.9" stroke-linecap="butt"/>
<text x="339.25" y="374.65" font-size="5.5" fill="#404040" text-anchor="middle" textLength="2.81" lengthAdjust="spacingAndGlyphs">6</text>
<line x1="348.00" y1="363.75" x2="348.00" y2="365.65" stroke="#111" stroke-width="0.9" stroke-linecap="butt"/>
<line x1="356.75" y1="363.75" x2="356.75" y2="367.15" stroke="#111" stroke-width="0.9" stroke-linecap="butt"/>
<text x="356.75" y="374.65" font-size="5.5" fill="#404040" text-anchor="middle" textLength="2.81" lengthAdjust="spacingAndGlyphs">8</text>
<line x1="365.50" y1="363.75" x2="365.50" y2="365.65" stroke="#111" stroke-width="0.9" stroke-linecap="butt"/>
<line x1="374.25" y1="363.75" x2="374.25" y2="367.15" stroke="#111" stroke-width="0.9" stroke-linecap="butt"/>
<text x="374.25" y="374.65" font-size="5.5" fill="#404040" text-anchor="middle" textLength="5.63" lengthAdjust="spacingAndGlyphs">10</text>
<line x1="383.00" y1="363.75" x2="383.00" y2="365.65" stroke="#111" stroke-width="0.9" stroke-linecap="butt"/>
<polyline points="340.12,360.77 372.06,363.49 376.00,363.75" fill="none" stroke="#f0a53c" stroke-width="1.0" stroke-linejoin="round"/>
<circle cx="340.12" cy="360.77" r="0.95" fill="#f0a53c"/>
<circle cx="372.06" cy="363.49" r="0.95" fill="#f0a53c"/>
<circle cx="376.00" cy="363.75" r="0.95" fill="#f0a53c"/>
<polyline points="340.12,350.89 372.06,362.88 376.00,362.00" fill="none" stroke="#79bf55" stroke-width="1.0" stroke-linejoin="round"/>
<circle cx="340.12" cy="350.89" r="0.95" fill="#79bf55"/>
<circle cx="372.06" cy="362.88" r="0.95" fill="#79bf55"/>
<circle cx="376.00" cy="362.00" r="0.95" fill="#79bf55"/>
<polyline points="286.75,345.55 340.12,347.65 372.06,362.88 376.00,361.12" fill="none" stroke="#3a7d5c" stroke-width="1.0" stroke-linejoin="round"/>
<circle cx="286.75" cy="345.55" r="0.95" fill="#3a7d5c"/>
<circle cx="340.12" cy="347.65" r="0.95" fill="#3a7d5c"/>
<circle cx="372.06" cy="362.88" r="0.95" fill="#3a7d5c"/>
<circle cx="376.00" cy="361.12" r="0.95" fill="#3a7d5c"/>
<polyline points="286.75,320.52 340.12,323.94 372.06,362.44 376.00,357.89" fill="none" stroke="#74457f" stroke-width="1.0" stroke-linejoin="round"/>
<circle cx="286.75" cy="320.52" r="0.95" fill="#74457f"/>
<circle cx="340.12" cy="323.94" r="0.95" fill="#74457f"/>
<circle cx="372.06" cy="362.44" r="0.95" fill="#74457f"/>
<circle cx="376.00" cy="357.89" r="0.95" fill="#74457f"/>
<polyline points="286.75,340.21 340.12,346.69 372.06,362.88 376.00,360.34" fill="none" stroke="#b3323f" stroke-width="1.1" stroke-linejoin="round"/>
<circle cx="286.75" cy="340.21" r="0.95" fill="#b3323f"/>
<circle cx="340.12" cy="346.69" r="0.95" fill="#b3323f"/>
<circle cx="372.06" cy="362.88" r="0.95" fill="#b3323f"/>
<circle cx="376.00" cy="360.34" r="0.95" fill="#b3323f"/>
<circle cx="286.75" cy="350.62" r="0.9" fill="#2c4a8c"/>
<circle cx="305.12" cy="362.44" r="0.9" fill="#2c4a8c"/>
<circle cx="331.38" cy="362.09" r="0.9" fill="#2c4a8c"/>
<circle cx="340.12" cy="353.95" r="0.9" fill="#2c4a8c"/>
<circle cx="355.00" cy="362.44" r="0.9" fill="#2c4a8c"/>
<circle cx="372.06" cy="362.88" r="0.9" fill="#2c4a8c"/>
<circle cx="376.00" cy="357.62" r="0.9" fill="#2c4a8c"/>
<text x="334.9" y="385.5" font-size="7.6" fill="#000" text-anchor="middle" textLength="46.5" lengthAdjust="spacingAndGlyphs" stroke="#000" stroke-width="0.2">Time (months)</text>
<text x="268.7" y="336.7" font-size="7.2" fill="#000" text-anchor="middle" textLength="48" lengthAdjust="spacingAndGlyphs" transform="rotate(-90 268.7 336.7)">Percentage (%)</text>
<line x1="294.40" y1="391.75" x2="327.35" y2="391.75" stroke="#111" stroke-width="1.1" stroke-linecap="butt"/>
<polygon points="290.50,391.75 294.40,390.00 294.40,393.50" fill="#111"/>
<polygon points="331.25,391.75 327.35,390.00 327.35,393.50" fill="#111"/>
<text x="310.5" y="398.5" font-size="5.3" fill="#111" text-anchor="middle" textLength="25" lengthAdjust="spacingAndGlyphs" stroke="#111" stroke-width="0.12">Decitabine</text>
<text x="336.4" y="333.8" font-size="4.6" fill="#6a6a6a" text-anchor="middle" textLength="15.6" lengthAdjust="spacingAndGlyphs">Allo-SCT</text>
<text x="336.5" y="338.7" font-size="4.6" fill="#6a6a6a" text-anchor="middle" textLength="12.7" lengthAdjust="spacingAndGlyphs">(BuFlu)</text>
<line x1="342.20" y1="339.80" x2="342.20" y2="342.40" stroke="#111" stroke-width="1.1" stroke-linecap="butt"/>
<polygon points="342.20,346.20 340.40,342.40 344.00,342.40" fill="#111"/>
<text x="463" y="304" font-size="7.9" fill="#111" text-anchor="middle" textLength="22" lengthAdjust="spacingAndGlyphs">UPN26</text>
<circle cx="394.10" cy="284.40" r="0.8" fill="#2c4a8c"/>
<text x="397.5" y="285.8" font-size="5.0" fill="#585858" text-anchor="start" textLength="10.76" lengthAdjust="spacingAndGlyphs">Blasts</text>
<line x1="425.40" y1="284.30" x2="428.50" y2="284.30" stroke="#b3323f" stroke-width="1.2" stroke-linecap="butt"/>
<text x="431.0" y="285.8" font-size="5.0" fill="#585858" text-anchor="start" textLength="31.39" lengthAdjust="spacingAndGlyphs">NPM1 W288fs*12</text>
<line x1="470.90" y1="284.30" x2="474.00" y2="284.30" stroke="#3a7d5c" stroke-width="1.2" stroke-linecap="butt"/>
<text x="476.5" y="285.8" font-size="5.0" fill="#585858" text-anchor="start" textLength="28.1" lengthAdjust="spacingAndGlyphs">DNMT3A R771*</text>
<line x1="392.90" y1="291.30" x2="396.00" y2="291.30" stroke="#74457f" stroke-width="1.2" stroke-linecap="butt"/>
<text x="398.5" y="292.8" font-size="5.0" fill="#585858" text-anchor="start" textLength="22.39" lengthAdjust="spacingAndGlyphs">IDH1 R132C</text>
<line x1="425.40" y1="291.30" x2="428.50" y2="291.30" stroke="#f0a53c" stroke-width="1.2" stroke-linecap="butt"/>
<text x="431.0" y="292.8" font-size="5.0" fill="#585858" text-anchor="start" textLength="25.47" lengthAdjust="spacingAndGlyphs">SF3B1 G740E</text>
<polygon points="413.25,363.75 413.25,348.00 485.25,361.65 485.25,363.75" fill="#989cbc" stroke="#8a8dbb" stroke-width="0.4"/>
<line x1="413.25" y1="308.45" x2="413.25" y2="364.45" stroke="#111" stroke-width="1.4" stroke-linecap="butt"/>
<line x1="412.55" y1="363.75" x2="512.00" y2="363.75" stroke="#111" stroke-width="1.4" stroke-linecap="butt"/>
<line x1="410.25" y1="363.75" x2="413.25" y2="363.75" stroke="#111" stroke-width="0.9" stroke-linecap="butt"/>
<text x="407.35" y="365.766" font-size="5.6" fill="#404040" text-anchor="end" textLength="2.87" lengthAdjust="spacingAndGlyphs">0</text>
<line x1="410.25" y1="353.25" x2="413.25" y2="353.25" stroke="#111" stroke-width="0.9" stroke-linecap="butt"/>
<text x="407.35" y="355.266" font-size="5.6" fill="#404040" text-anchor="end" textLength="5.73" lengthAdjust="spacingAndGlyphs">10</text>
<line x1="410.25" y1="342.75" x2="413.25" y2="342.75" stroke="#111" stroke-width="0.9" stroke-linecap="butt"/>
<text x="407.35" y="344.766" font-size="5.6" fill="#404040" text-anchor="end" textLength="5.73" lengthAdjust="spacingAndGlyphs">20</text>
<line x1="410.25" y1="332.25" x2="413.25" y2="332.25" stroke="#111" stroke-width="0.9" stroke-linecap="butt"/>
<text x="407.35" y="334.266" font-size="5.6" fill="#404040" text-anchor="end" textLength="5.73" lengthAdjust="spacingAndGlyphs">30</text>
<line x1="410.25" y1="321.75" x2="413.25" y2="321.75" stroke="#111" stroke-width="0.9" stroke-linecap="butt"/>
<text x="407.35" y="323.766" font-size="5.6" fill="#404040" text-anchor="end" textLength="5.73" lengthAdjust="spacingAndGlyphs">40</text>
<line x1="410.25" y1="311.25" x2="413.25" y2="311.25" stroke="#111" stroke-width="0.9" stroke-linecap="butt"/>
<text x="407.35" y="313.266" font-size="5.6" fill="#404040" text-anchor="end" textLength="5.73" lengthAdjust="spacingAndGlyphs">50</text>
<line x1="413.25" y1="363.75" x2="413.25" y2="367.15" stroke="#111" stroke-width="0.9" stroke-linecap="butt"/>
<text x="413.25" y="374.65" font-size="5.5" fill="#404040" text-anchor="middle" textLength="2.81" lengthAdjust="spacingAndGlyphs">0</text>
<line x1="461.25" y1="363.75" x2="461.25" y2="365.65" stroke="#111" stroke-width="0.9" stroke-linecap="butt"/>
<line x1="509.25" y1="363.75" x2="509.25" y2="367.15" stroke="#111" stroke-width="0.9" stroke-linecap="butt"/>
<text x="509.25" y="374.65" font-size="5.5" fill="#404040" text-anchor="middle" textLength="2.81" lengthAdjust="spacingAndGlyphs">2</text>
<polyline points="413.25,321.75 485.25,323.85" fill="none" stroke="#3a7d5c" stroke-width="1.0" stroke-linejoin="round"/>
<circle cx="413.25" cy="321.75" r="0.95" fill="#3a7d5c"/>
<circle cx="485.25" cy="323.85" r="0.95" fill="#3a7d5c"/>
<polyline points="413.25,327.00 485.25,325.95" fill="none" stroke="#b3323f" stroke-width="1.1" stroke-linejoin="round"/>
<circle cx="413.25" cy="327.00" r="0.95" fill="#b3323f"/>
<circle cx="485.25" cy="325.95" r="0.95" fill="#b3323f"/>
<polyline points="413.25,334.35 485.25,338.55" fill="none" stroke="#f0a53c" stroke-width="1.0" stroke-linejoin="round"/>
<circle cx="413.25" cy="334.35" r="0.95" fill="#f0a53c"/>
<circle cx="485.25" cy="338.55" r="0.95" fill="#f0a53c"/>
<polyline points="413.25,345.90 485.25,341.70" fill="none" stroke="#74457f" stroke-width="1.0" stroke-linejoin="round"/>
<circle cx="413.25" cy="345.90" r="0.95" fill="#74457f"/>
<circle cx="485.25" cy="341.70" r="0.95" fill="#74457f"/>
<circle cx="413.25" cy="348.00" r="0.9" fill="#2c4a8c"/>
<circle cx="485.25" cy="361.65" r="0.9" fill="#2c4a8c"/>
<text x="461.25" y="385.5" font-size="7.6" fill="#000" text-anchor="middle" textLength="46.5" lengthAdjust="spacingAndGlyphs" stroke="#000" stroke-width="0.2">Time (months)</text>
<text x="395.2" y="336.7" font-size="7.2" fill="#000" text-anchor="middle" textLength="48" lengthAdjust="spacingAndGlyphs" transform="rotate(-90 395.2 336.7)">Percentage (%)</text>
<line x1="421.40" y1="391.75" x2="482.35" y2="391.75" stroke="#111" stroke-width="1.1" stroke-linecap="butt"/>
<polygon points="417.50,391.75 421.40,390.00 421.40,393.50" fill="#111"/>
<polygon points="486.25,391.75 482.35,390.00 482.35,393.50" fill="#111"/>
<text x="451.9" y="398.5" font-size="5.3" fill="#111" text-anchor="middle" textLength="55.2" lengthAdjust="spacingAndGlyphs" stroke="#111" stroke-width="0.12">Azacitidine + Ruxolitinib</text>
<text x="81.1" y="439.5" font-size="7.9" fill="#111" text-anchor="middle" textLength="22" lengthAdjust="spacingAndGlyphs">UPN27</text>
<circle cx="9.40" cy="413.20" r="0.8" fill="#2c4a8c"/>
<text x="12.8" y="414.6" font-size="5.0" fill="#585858" text-anchor="start" textLength="10.76" lengthAdjust="spacingAndGlyphs">Blasts</text>
<line x1="46.10" y1="413.10" x2="49.20" y2="413.10" stroke="#b3323f" stroke-width="1.2" stroke-linecap="butt"/>
<text x="51.7" y="414.6" font-size="5.0" fill="#585858" text-anchor="start" textLength="31.39" lengthAdjust="spacingAndGlyphs">NPM1 W288fs*12</text>
<line x1="91.80" y1="413.10" x2="94.90" y2="413.10" stroke="#3a7d5c" stroke-width="1.2" stroke-linecap="butt"/>
<text x="97.4" y="414.6" font-size="5.0" fill="#585858" text-anchor="start" textLength="26.13" lengthAdjust="spacingAndGlyphs">ASXL1 G646fs</text>
<line x1="8.20" y1="420.60" x2="11.30" y2="420.60" stroke="#222222" stroke-width="1.2" stroke-linecap="butt"/>
<text x="13.8" y="422.1" font-size="5.0" fill="#585858" text-anchor="start" textLength="26.56" lengthAdjust="spacingAndGlyphs">NOTCH1 P55L</text>
<line x1="46.10" y1="420.60" x2="49.20" y2="420.60" stroke="#74457f" stroke-width="1.2" stroke-linecap="butt"/>
<text x="51.7" y="422.1" font-size="5.0" fill="#585858" text-anchor="start" textLength="22.39" lengthAdjust="spacingAndGlyphs">IDH1 R132C</text>
<line x1="91.80" y1="420.60" x2="94.90" y2="420.60" stroke="#d47a3a" stroke-width="1.2" stroke-linecap="butt"/>
<text x="97.4" y="422.1" font-size="5.0" fill="#585858" text-anchor="start" textLength="23.05" lengthAdjust="spacingAndGlyphs">SF3A1 K60R</text>
<line x1="8.20" y1="427.80" x2="11.30" y2="427.80" stroke="#f0a53c" stroke-width="1.2" stroke-linecap="butt"/>
<text x="13.8" y="429.3" font-size="5.0" fill="#585858" text-anchor="start" textLength="23.49" lengthAdjust="spacingAndGlyphs">EZH2 D617N</text>
<polygon points="32.00,499.00 32.00,495.87 39.22,498.48 48.83,498.48 112.33,495.35 120.50,493.79 120.50,499.00" fill="#989cbc" stroke="#8a8dbb" stroke-width="0.4"/>
<line x1="32.00" y1="444.10" x2="32.00" y2="499.70" stroke="#111" stroke-width="1.4" stroke-linecap="butt"/>
<line x1="31.30" y1="499.00" x2="130.00" y2="499.00" stroke="#111" stroke-width="1.4" stroke-linecap="butt"/>
<line x1="29.00" y1="499.00" x2="32.00" y2="499.00" stroke="#111" stroke-width="0.9" stroke-linecap="butt"/>
<text x="26.1" y="500.836" font-size="5.1" fill="#404040" text-anchor="end" textLength="2.61" lengthAdjust="spacingAndGlyphs">0</text>
<line x1="29.00" y1="493.79" x2="32.00" y2="493.79" stroke="#111" stroke-width="0.9" stroke-linecap="butt"/>
<text x="26.1" y="495.62600000000003" font-size="5.1" fill="#404040" text-anchor="end" textLength="5.22" lengthAdjust="spacingAndGlyphs">10</text>
<line x1="29.00" y1="488.58" x2="32.00" y2="488.58" stroke="#111" stroke-width="0.9" stroke-linecap="butt"/>
<text x="26.1" y="490.416" font-size="5.1" fill="#404040" text-anchor="end" textLength="5.22" lengthAdjust="spacingAndGlyphs">20</text>
<line x1="29.00" y1="483.37" x2="32.00" y2="483.37" stroke="#111" stroke-width="0.9" stroke-linecap="butt"/>
<text x="26.1" y="485.206" font-size="5.1" fill="#404040" text-anchor="end" textLength="5.22" lengthAdjust="spacingAndGlyphs">30</text>
<line x1="29.00" y1="478.16" x2="32.00" y2="478.16" stroke="#111" stroke-width="0.9" stroke-linecap="butt"/>
<text x="26.1" y="479.99600000000004" font-size="5.1" fill="#404040" text-anchor="end" textLength="5.22" lengthAdjust="spacingAndGlyphs">40</text>
<line x1="29.00" y1="472.95" x2="32.00" y2="472.95" stroke="#111" stroke-width="0.9" stroke-linecap="butt"/>
<text x="26.1" y="474.786" font-size="5.1" fill="#404040" text-anchor="end" textLength="5.22" lengthAdjust="spacingAndGlyphs">50</text>
<line x1="29.00" y1="467.74" x2="32.00" y2="467.74" stroke="#111" stroke-width="0.9" stroke-linecap="butt"/>
<text x="26.1" y="469.576" font-size="5.1" fill="#404040" text-anchor="end" textLength="5.22" lengthAdjust="spacingAndGlyphs">60</text>
<line x1="29.00" y1="462.53" x2="32.00" y2="462.53" stroke="#111" stroke-width="0.9" stroke-linecap="butt"/>
<text x="26.1" y="464.366" font-size="5.1" fill="#404040" text-anchor="end" textLength="5.22" lengthAdjust="spacingAndGlyphs">70</text>
<line x1="29.00" y1="457.32" x2="32.00" y2="457.32" stroke="#111" stroke-width="0.9" stroke-linecap="butt"/>
<text x="26.1" y="459.156" font-size="5.1" fill="#404040" text-anchor="end" textLength="5.22" lengthAdjust="spacingAndGlyphs">80</text>
<line x1="29.00" y1="452.11" x2="32.00" y2="452.11" stroke="#111" stroke-width="0.9" stroke-linecap="butt"/>
<text x="26.1" y="453.946" font-size="5.1" fill="#404040" text-anchor="end" textLength="5.22" lengthAdjust="spacingAndGlyphs">90</text>
<line x1="29.00" y1="446.90" x2="32.00" y2="446.90" stroke="#111" stroke-width="0.9" stroke-linecap="butt"/>
<text x="26.1" y="448.736" font-size="5.1" fill="#404040" text-anchor="end" textLength="7.83" lengthAdjust="spacingAndGlyphs">100</text>
<line x1="32.00" y1="499.00" x2="32.00" y2="502.40" stroke="#111" stroke-width="0.9" stroke-linecap="butt"/>
<text x="32.0" y="509.9" font-size="5.5" fill="#404040" text-anchor="middle" textLength="2.81" lengthAdjust="spacingAndGlyphs">0</text>
<line x1="36.81" y1="499.00" x2="36.81" y2="500.90" stroke="#111" stroke-width="0.9" stroke-linecap="butt"/>
<line x1="41.62" y1="499.00" x2="41.62" y2="502.40" stroke="#111" stroke-width="0.9" stroke-linecap="butt"/>
<text x="41.62" y="509.9" font-size="5.5" fill="#404040" text-anchor="middle" textLength="2.81" lengthAdjust="spacingAndGlyphs">2</text>
<line x1="46.43" y1="499.00" x2="46.43" y2="500.90" stroke="#111" stroke-width="0.9" stroke-linecap="butt"/>
<line x1="51.24" y1="499.00" x2="51.24" y2="502.40" stroke="#111" stroke-width="0.9" stroke-linecap="butt"/>
<text x="51.239999999999995" y="509.9" font-size="5.5" fill="#404040" text-anchor="middle" textLength="2.81" lengthAdjust="spacingAndGlyphs">4</text>
<line x1="56.05" y1="499.00" x2="56.05" y2="500.90" stroke="#111" stroke-width="0.9" stroke-linecap="butt"/>
<line x1="60.86" y1="499.00" x2="60.86" y2="502.40" stroke="#111" stroke-width="0.9" stroke-linecap="butt"/>
<text x="60.86" y="509.9" font-size="5.5" fill="#404040" text-anchor="middle" textLength="2.81" lengthAdjust="spacingAndGlyphs">6</text>
<line x1="65.67" y1="499.00" x2="65.67" y2="500.90" stroke="#111" stroke-width="0.9" stroke-linecap="butt"/>
<line x1="70.48" y1="499.00" x2="70.48" y2="502.40" stroke="#111" stroke-width="0.9" stroke-linecap="butt"/>
<text x="70.47999999999999" y="509.9" font-size="5.5" fill="#404040" text-anchor="middle" textLength="2.81" lengthAdjust="spacingAndGlyphs">8</text>
<line x1="75.29" y1="499.00" x2="75.29" y2="500.90" stroke="#111" stroke-width="0.9" stroke-linecap="butt"/>
<line x1="80.10" y1="499.00" x2="80.10" y2="502.40" stroke="#111" stroke-width="0.9" stroke-linecap="butt"/>
<text x="80.1" y="509.9" font-size="5.5" fill="#404040" text-anchor="middle" textLength="5.63" lengthAdjust="spacingAndGlyphs">10</text>
<line x1="84.91" y1="499.00" x2="84.91" y2="500.90" stroke="#111" stroke-width="0.9" stroke-linecap="butt"/>
<line x1="89.72" y1="499.00" x2="89.72" y2="502.40" stroke="#111" stroke-width="0.9" stroke-linecap="butt"/>
<text x="89.72" y="509.9" font-size="5.5" fill="#404040" text-anchor="middle" textLength="5.63" lengthAdjust="spacingAndGlyphs">12</text>
<line x1="94.53" y1="499.00" x2="94.53" y2="500.90" stroke="#111" stroke-width="0.9" stroke-linecap="butt"/>
<line x1="99.34" y1="499.00" x2="99.34" y2="502.40" stroke="#111" stroke-width="0.9" stroke-linecap="butt"/>
<text x="99.33999999999999" y="509.9" font-size="5.5" fill="#404040" text-anchor="middle" textLength="5.63" lengthAdjust="spacingAndGlyphs">14</text>
<line x1="104.15" y1="499.00" x2="104.15" y2="500.90" stroke="#111" stroke-width="0.9" stroke-linecap="butt"/>
<line x1="108.96" y1="499.00" x2="108.96" y2="502.40" stroke="#111" stroke-width="0.9" stroke-linecap="butt"/>
<text x="108.96" y="509.9" font-size="5.5" fill="#404040" text-anchor="middle" textLength="5.63" lengthAdjust="spacingAndGlyphs">16</text>
<line x1="113.77" y1="499.00" x2="113.77" y2="500.90" stroke="#111" stroke-width="0.9" stroke-linecap="butt"/>
<line x1="118.58" y1="499.00" x2="118.58" y2="502.40" stroke="#111" stroke-width="0.9" stroke-linecap="butt"/>
<text x="118.58" y="509.9" font-size="5.5" fill="#404040" text-anchor="middle" textLength="5.63" lengthAdjust="spacingAndGlyphs">18</text>
<line x1="123.39" y1="499.00" x2="123.39" y2="500.90" stroke="#111" stroke-width="0.9" stroke-linecap="butt"/>
<line x1="128.20" y1="499.00" x2="128.20" y2="502.40" stroke="#111" stroke-width="0.9" stroke-linecap="butt"/>
<text x="128.2" y="509.9" font-size="5.5" fill="#404040" text-anchor="middle" textLength="5.63" lengthAdjust="spacingAndGlyphs">20</text>
<polyline points="32.00,495.35 48.83,499.00 112.33,496.92 120.50,495.87" fill="none" stroke="#74457f" stroke-width="1.0" stroke-linejoin="round"/>
<circle cx="32.00" cy="495.35" r="0.95" fill="#74457f"/>
<circle cx="48.83" cy="499.00" r="0.95" fill="#74457f"/>
<circle cx="112.33" cy="496.92" r="0.95" fill="#74457f"/>
<circle cx="120.50" cy="495.87" r="0.95" fill="#74457f"/>
<polyline points="32.00,490.14 48.83,495.61 112.33,498.48 120.50,489.62" fill="none" stroke="#3a7d5c" stroke-width="1.0" stroke-linejoin="round"/>
<circle cx="32.00" cy="490.14" r="0.95" fill="#3a7d5c"/>
<circle cx="48.83" cy="495.61" r="0.95" fill="#3a7d5c"/>
<circle cx="112.33" cy="498.48" r="0.95" fill="#3a7d5c"/>
<circle cx="120.50" cy="489.62" r="0.95" fill="#3a7d5c"/>
<polyline points="32.00,476.60 48.83,499.00" fill="none" stroke="#222222" stroke-width="1.0" stroke-linejoin="round"/>
<circle cx="32.00" cy="476.60" r="0.95" fill="#222222"/>
<circle cx="48.83" cy="499.00" r="0.95" fill="#222222"/>
<polyline points="32.00,448.67 48.83,489.10 112.33,499.00 120.50,474.51" fill="none" stroke="#f0a53c" stroke-width="1.0" stroke-linejoin="round"/>
<circle cx="32.00" cy="448.67" r="0.95" fill="#f0a53c"/>
<circle cx="48.83" cy="489.10" r="0.95" fill="#f0a53c"/>
<circle cx="112.33" cy="499.00" r="0.95" fill="#f0a53c"/>
<circle cx="120.50" cy="474.51" r="0.95" fill="#f0a53c"/>
<polyline points="32.00,478.68 39.22,499.00 120.50,499.00" fill="none" stroke="#b3323f" stroke-width="1.1" stroke-linejoin="round"/>
<circle cx="32.00" cy="478.68" r="0.95" fill="#b3323f"/>
<circle cx="39.22" cy="499.00" r="0.95" fill="#b3323f"/>
<circle cx="120.50" cy="499.00" r="0.95" fill="#b3323f"/>
<circle cx="32.00" cy="495.87" r="0.9" fill="#2c4a8c"/>
<circle cx="39.22" cy="498.48" r="0.9" fill="#2c4a8c"/>
<circle cx="48.83" cy="498.48" r="0.9" fill="#2c4a8c"/>
<circle cx="112.33" cy="495.35" r="0.9" fill="#2c4a8c"/>
<circle cx="120.50" cy="493.79" r="0.9" fill="#2c4a8c"/>
<text x="81.25" y="521.5" font-size="7.6" fill="#000" text-anchor="middle" textLength="46.5" lengthAdjust="spacingAndGlyphs" stroke="#000" stroke-width="0.2">Time (months)</text>
<text x="14" y="472.4" font-size="7.2" fill="#000" text-anchor="middle" textLength="48" lengthAdjust="spacingAndGlyphs" transform="rotate(-90 14 472.4)">Percentage (%)</text>
<line x1="37.50" y1="512.00" x2="37.50" y2="509.00" stroke="#111" stroke-width="1.1" stroke-linecap="butt"/>
<polygon points="37.50,505.20 35.70,509.00 39.30,509.00" fill="#111"/>
<text x="40.4" y="516.8" font-size="4.6" fill="#8a8a8a" text-anchor="middle" textLength="16" lengthAdjust="spacingAndGlyphs">Allo-SCT</text>
<text x="40" y="522" font-size="4.6" fill="#8a8a8a" text-anchor="middle" textLength="13.4" lengthAdjust="spacingAndGlyphs">(BuFlu)</text>
<text x="208.1" y="439.3" font-size="7.9" fill="#111" text-anchor="middle" textLength="22" lengthAdjust="spacingAndGlyphs">UPN28</text>
<circle cx="147.60" cy="413.20" r="0.8" fill="#2c4a8c"/>
<text x="151.0" y="414.6" font-size="5.0" fill="#585858" text-anchor="start" textLength="10.76" lengthAdjust="spacingAndGlyphs">Blasts</text>
<line x1="180.00" y1="413.10" x2="183.10" y2="413.10" stroke="#b3323f" stroke-width="1.2" stroke-linecap="butt"/>
<text x="185.6" y="414.6" font-size="5.0" fill="#585858" text-anchor="start" textLength="25.46" lengthAdjust="spacingAndGlyphs">NPM1 W290fs</text>
<line x1="217.40" y1="413.10" x2="220.50" y2="413.10" stroke="#3a7d5c" stroke-width="1.2" stroke-linecap="butt"/>
<text x="223.0" y="414.6" font-size="5.0" fill="#585858" text-anchor="start" textLength="22.39" lengthAdjust="spacingAndGlyphs">NRAS G12D</text>
<line x1="146.40" y1="420.60" x2="149.50" y2="420.60" stroke="#74457f" stroke-width="1.2" stroke-linecap="butt"/>
<text x="152.0" y="422.1" font-size="5.0" fill="#585858" text-anchor="start" textLength="22.39" lengthAdjust="spacingAndGlyphs">IDH1 R132C</text>
<line x1="180.00" y1="420.60" x2="183.10" y2="420.60" stroke="#f0a53c" stroke-width="1.2" stroke-linecap="butt"/>
<text x="185.6" y="422.1" font-size="5.0" fill="#585858" text-anchor="start" textLength="22.39" lengthAdjust="spacingAndGlyphs">IDH1 R132H</text>
<polygon points="158.60,499.00 158.60,496.42 202.60,498.14 229.00,488.68 237.80,491.26 246.60,480.08 246.60,499.00" fill="#989cbc" stroke="#8a8dbb" stroke-width="0.4"/>
<line x1="158.60" y1="444.60" x2="158.60" y2="499.70" stroke="#111" stroke-width="1.4" stroke-linecap="butt"/>
<line x1="157.90" y1="499.00" x2="258.00" y2="499.00" stroke="#111" stroke-width="1.4" stroke-linecap="butt"/>
<line x1="155.60" y1="499.00" x2="158.60" y2="499.00" stroke="#111" stroke-width="0.9" stroke-linecap="butt"/>
<text x="152.7" y="501.016" font-size="5.6" fill="#404040" text-anchor="end" textLength="2.87" lengthAdjust="spacingAndGlyphs">0</text>
<line x1="155.60" y1="490.40" x2="158.60" y2="490.40" stroke="#111" stroke-width="0.9" stroke-linecap="butt"/>
<text x="152.7" y="492.416" font-size="5.6" fill="#404040" text-anchor="end" textLength="5.73" lengthAdjust="spacingAndGlyphs">10</text>
<line x1="155.60" y1="481.80" x2="158.60" y2="481.80" stroke="#111" stroke-width="0.9" stroke-linecap="butt"/>
<text x="152.7" y="483.81600000000003" font-size="5.6" fill="#404040" text-anchor="end" textLength="5.73" lengthAdjust="spacingAndGlyphs">20</text>
<line x1="155.60" y1="473.20" x2="158.60" y2="473.20" stroke="#111" stroke-width="0.9" stroke-linecap="butt"/>
<text x="152.7" y="475.216" font-size="5.6" fill="#404040" text-anchor="end" textLength="5.73" lengthAdjust="spacingAndGlyphs">30</text>
<line x1="155.60" y1="464.60" x2="158.60" y2="464.60" stroke="#111" stroke-width="0.9" stroke-linecap="butt"/>
<text x="152.7" y="466.61600000000004" font-size="5.6" fill="#404040" text-anchor="end" textLength="5.73" lengthAdjust="spacingAndGlyphs">40</text>
<line x1="155.60" y1="456.00" x2="158.60" y2="456.00" stroke="#111" stroke-width="0.9" stroke-linecap="butt"/>
<text x="152.7" y="458.016" font-size="5.6" fill="#404040" text-anchor="end" textLength="5.73" lengthAdjust="spacingAndGlyphs">50</text>
<line x1="155.60" y1="447.40" x2="158.60" y2="447.40" stroke="#111" stroke-width="0.9" stroke-linecap="butt"/>
<text x="152.7" y="449.416" font-size="5.6" fill="#404040" text-anchor="end" textLength="5.73" lengthAdjust="spacingAndGlyphs">60</text>
<line x1="158.60" y1="499.00" x2="158.60" y2="502.40" stroke="#111" stroke-width="0.9" stroke-linecap="butt"/>
<text x="158.6" y="509.9" font-size="5.5" fill="#404040" text-anchor="middle" textLength="2.81" lengthAdjust="spacingAndGlyphs">0</text>
<line x1="167.40" y1="499.00" x2="167.40" y2="500.90" stroke="#111" stroke-width="0.9" stroke-linecap="butt"/>
<line x1="176.20" y1="499.00" x2="176.20" y2="502.40" stroke="#111" stroke-width="0.9" stroke-linecap="butt"/>
<text x="176.2" y="509.9" font-size="5.5" fill="#404040" text-anchor="middle" textLength="2.81" lengthAdjust="spacingAndGlyphs">2</text>
<line x1="185.00" y1="499.00" x2="185.00" y2="500.90" stroke="#111" stroke-width="0.9" stroke-linecap="butt"/>
<line x1="193.80" y1="499.00" x2="193.80" y2="502.40" stroke="#111" stroke-width="0.9" stroke-linecap="butt"/>
<text x="193.8" y="509.9" font-size="5.5" fill="#404040" text-anchor="middle" textLength="2.81" lengthAdjust="spacingAndGlyphs">4</text>
<line x1="202.60" y1="499.00" x2="202.60" y2="500.90" stroke="#111" stroke-width="0.9" stroke-linecap="butt"/>
<line x1="211.40" y1="499.00" x2="211.40" y2="502.40" stroke="#111" stroke-width="0.9" stroke-linecap="butt"/>
<text x="211.4" y="509.9" font-size="5.5" fill="#404040" text-anchor="middle" textLength="2.81" lengthAdjust="spacingAndGlyphs">6</text>
<line x1="220.20" y1="499.00" x2="220.20" y2="500.90" stroke="#111" stroke-width="0.9" stroke-linecap="butt"/>
<line x1="229.00" y1="499.00" x2="229.00" y2="502.40" stroke="#111" stroke-width="0.9" stroke-linecap="butt"/>
<text x="229.0" y="509.9" font-size="5.5" fill="#404040" text-anchor="middle" textLength="2.81" lengthAdjust="spacingAndGlyphs">8</text>
<line x1="237.80" y1="499.00" x2="237.80" y2="500.90" stroke="#111" stroke-width="0.9" stroke-linecap="butt"/>
<line x1="246.60" y1="499.00" x2="246.60" y2="502.40" stroke="#111" stroke-width="0.9" stroke-linecap="butt"/>
<text x="246.6" y="509.9" font-size="5.5" fill="#404040" text-anchor="middle" textLength="5.63" lengthAdjust="spacingAndGlyphs">10</text>
<line x1="255.40" y1="499.00" x2="255.40" y2="500.90" stroke="#111" stroke-width="0.9" stroke-linecap="butt"/>
<polyline points="158.60,477.50 202.60,499.00" fill="none" stroke="#74457f" stroke-width="1.0" stroke-linejoin="round"/>
<circle cx="158.60" cy="477.50" r="0.95" fill="#74457f"/>
<circle cx="202.60" cy="499.00" r="0.95" fill="#74457f"/>
<polyline points="158.60,497.28 202.60,489.54 229.00,475.78" fill="none" stroke="#3a7d5c" stroke-width="1.0" stroke-linejoin="round"/>
<circle cx="158.60" cy="497.28" r="0.95" fill="#3a7d5c"/>
<circle cx="202.60" cy="489.54" r="0.95" fill="#3a7d5c"/>
<circle cx="229.00" cy="475.78" r="0.95" fill="#3a7d5c"/>
<polyline points="158.60,453.42 202.60,486.96 229.00,470.62" fill="none" stroke="#b3323f" stroke-width="1.1" stroke-linejoin="round"/>
<circle cx="158.60" cy="453.42" r="0.95" fill="#b3323f"/>
<circle cx="202.60" cy="486.96" r="0.95" fill="#b3323f"/>
<circle cx="229.00" cy="470.62" r="0.95" fill="#b3323f"/>
<polyline points="229.00,490.40" fill="none" stroke="#f0a53c" stroke-width="1.0" stroke-linejoin="round"/>
<circle cx="229.00" cy="490.40" r="0.95" fill="#f0a53c"/>
<circle cx="158.60" cy="496.42" r="0.9" fill="#2c4a8c"/>
<circle cx="202.60" cy="498.14" r="0.9" fill="#2c4a8c"/>
<circle cx="229.00" cy="488.68" r="0.9" fill="#2c4a8c"/>
<circle cx="237.80" cy="491.26" r="0.9" fill="#2c4a8c"/>
<circle cx="246.60" cy="480.08" r="0.9" fill="#2c4a8c"/>
<text x="207.9" y="521.5" font-size="7.6" fill="#000" text-anchor="middle" textLength="46.5" lengthAdjust="spacingAndGlyphs" stroke="#000" stroke-width="0.2">Time (months)</text>
<text x="141.0" y="472.4" font-size="7.2" fill="#000" text-anchor="middle" textLength="48" lengthAdjust="spacingAndGlyphs" transform="rotate(-90 141.0 472.4)">Percentage (%)</text>
<line x1="172.10" y1="525.10" x2="234.40" y2="525.10" stroke="#111" stroke-width="1.1" stroke-linecap="butt"/>
<polygon points="168.20,525.10 172.10,523.35 172.10,526.85" fill="#111"/>
<polygon points="238.30,525.10 234.40,523.35 234.40,526.85" fill="#111"/>
<text x="203.1" y="531" font-size="5.3" fill="#111" text-anchor="middle" textLength="25" lengthAdjust="spacingAndGlyphs" stroke="#111" stroke-width="0.12">Decitabine</text>
<text x="336.5" y="439.5" font-size="7.9" fill="#111" text-anchor="middle" textLength="22" lengthAdjust="spacingAndGlyphs">UPN30</text>
<circle cx="268.60" cy="413.20" r="0.8" fill="#2c4a8c"/>
<text x="272.0" y="414.6" font-size="5.0" fill="#585858" text-anchor="start" textLength="10.76" lengthAdjust="spacingAndGlyphs">Blasts</text>
<line x1="301.00" y1="413.10" x2="304.10" y2="413.10" stroke="#b3323f" stroke-width="1.2" stroke-linecap="butt"/>
<text x="306.6" y="414.6" font-size="5.0" fill="#585858" text-anchor="start" textLength="31.39" lengthAdjust="spacingAndGlyphs">NPM1 W288fs*12</text>
<line x1="346.60" y1="413.10" x2="349.70" y2="413.10" stroke="#3a7d5c" stroke-width="1.2" stroke-linecap="butt"/>
<text x="352.2" y="414.6" font-size="5.0" fill="#585858" text-anchor="start" textLength="22.39" lengthAdjust="spacingAndGlyphs">NRAS G12D</text>
<line x1="267.40" y1="420.60" x2="270.50" y2="420.60" stroke="#74457f" stroke-width="1.2" stroke-linecap="butt"/>
<text x="273.0" y="422.1" font-size="5.0" fill="#585858" text-anchor="start" textLength="22.39" lengthAdjust="spacingAndGlyphs">IDH1 R132C</text>
<line x1="301.00" y1="420.60" x2="304.10" y2="420.60" stroke="#f0a53c" stroke-width="1.2" stroke-linecap="butt"/>
<text x="306.6" y="422.1" font-size="5.0" fill="#585858" text-anchor="start" textLength="23.05" lengthAdjust="spacingAndGlyphs">TP53 Q192R</text>
<line x1="346.60" y1="420.60" x2="349.70" y2="420.60" stroke="#222222" stroke-width="1.2" stroke-linecap="butt"/>
<text x="352.2" y="422.1" font-size="5.0" fill="#585858" text-anchor="start" textLength="21.73" lengthAdjust="spacingAndGlyphs">PHF6 F262*</text>
<polygon points="286.60,499.00 286.60,481.80 293.31,497.71 311.00,498.14 352.48,496.42 361.02,477.76 364.68,475.01 367.73,499.00 367.73,499.00" fill="#989cbc" stroke="#8a8dbb" stroke-width="0.4"/>
<line x1="286.60" y1="444.60" x2="286.60" y2="499.70" stroke="#111" stroke-width="1.4" stroke-linecap="butt"/>
<line x1="285.90" y1="499.00" x2="387.70" y2="499.00" stroke="#111" stroke-width="1.4" stroke-linecap="butt"/>
<line x1="283.60" y1="499.00" x2="286.60" y2="499.00" stroke="#111" stroke-width="0.9" stroke-linecap="butt"/>
<text x="280.70000000000005" y="501.016" font-size="5.6" fill="#404040" text-anchor="end" textLength="2.87" lengthAdjust="spacingAndGlyphs">0</text>
<line x1="283.60" y1="490.40" x2="286.60" y2="490.40" stroke="#111" stroke-width="0.9" stroke-linecap="butt"/>
<text x="280.70000000000005" y="492.416" font-size="5.6" fill="#404040" text-anchor="end" textLength="5.73" lengthAdjust="spacingAndGlyphs">10</text>
<line x1="283.60" y1="481.80" x2="286.60" y2="481.80" stroke="#111" stroke-width="0.9" stroke-linecap="butt"/>
<text x="280.70000000000005" y="483.81600000000003" font-size="5.6" fill="#404040" text-anchor="end" textLength="5.73" lengthAdjust="spacingAndGlyphs">20</text>
<line x1="283.60" y1="473.20" x2="286.60" y2="473.20" stroke="#111" stroke-width="0.9" stroke-linecap="butt"/>
<text x="280.70000000000005" y="475.216" font-size="5.6" fill="#404040" text-anchor="end" textLength="5.73" lengthAdjust="spacingAndGlyphs">30</text>
<line x1="283.60" y1="464.60" x2="286.60" y2="464.60" stroke="#111" stroke-width="0.9" stroke-linecap="butt"/>
<text x="280.70000000000005" y="466.61600000000004" font-size="5.6" fill="#404040" text-anchor="end" textLength="5.73" lengthAdjust="spacingAndGlyphs">40</text>
<line x1="283.60" y1="456.00" x2="286.60" y2="456.00" stroke="#111" stroke-width="0.9" stroke-linecap="butt"/>
<text x="280.70000000000005" y="458.016" font-size="5.6" fill="#404040" text-anchor="end" textLength="5.73" lengthAdjust="spacingAndGlyphs">50</text>
<line x1="283.60" y1="447.40" x2="286.60" y2="447.40" stroke="#111" stroke-width="0.9" stroke-linecap="butt"/>
<text x="280.70000000000005" y="449.416" font-size="5.6" fill="#404040" text-anchor="end" textLength="5.73" lengthAdjust="spacingAndGlyphs">60</text>
<line x1="286.60" y1="499.00" x2="286.60" y2="502.40" stroke="#111" stroke-width="0.9" stroke-linecap="butt"/>
<text x="286.6" y="509.9" font-size="5.5" fill="#404040" text-anchor="middle" textLength="2.81" lengthAdjust="spacingAndGlyphs">0</text>
<line x1="292.70" y1="499.00" x2="292.70" y2="500.90" stroke="#111" stroke-width="0.9" stroke-linecap="butt"/>
<line x1="298.80" y1="499.00" x2="298.80" y2="502.40" stroke="#111" stroke-width="0.9" stroke-linecap="butt"/>
<text x="298.8" y="509.9" font-size="5.5" fill="#404040" text-anchor="middle" textLength="2.81" lengthAdjust="spacingAndGlyphs">2</text>
<line x1="304.90" y1="499.00" x2="304.90" y2="500.90" stroke="#111" stroke-width="0.9" stroke-linecap="butt"/>
<line x1="311.00" y1="499.00" x2="311.00" y2="502.40" stroke="#111" stroke-width="0.9" stroke-linecap="butt"/>
<text x="311.0" y="509.9" font-size="5.5" fill="#404040" text-anchor="middle" textLength="2.81" lengthAdjust="spacingAndGlyphs">4</text>
<line x1="317.10" y1="499.00" x2="317.10" y2="500.90" stroke="#111" stroke-width="0.9" stroke-linecap="butt"/>
<line x1="323.20" y1="499.00" x2="323.20" y2="502.40" stroke="#111" stroke-width="0.9" stroke-linecap="butt"/>
<text x="323.20000000000005" y="509.9" font-size="5.5" fill="#404040" text-anchor="middle" textLength="2.81" lengthAdjust="spacingAndGlyphs">6</text>
<line x1="329.30" y1="499.00" x2="329.30" y2="500.90" stroke="#111" stroke-width="0.9" stroke-linecap="butt"/>
<line x1="335.40" y1="499.00" x2="335.40" y2="502.40" stroke="#111" stroke-width="0.9" stroke-linecap="butt"/>
<text x="335.40000000000003" y="509.9" font-size="5.5" fill="#404040" text-anchor="middle" textLength="2.81" lengthAdjust="spacingAndGlyphs">8</text>
<line x1="341.50" y1="499.00" x2="341.50" y2="500.90" stroke="#111" stroke-width="0.9" stroke-linecap="butt"/>
<line x1="347.60" y1="499.00" x2="347.60" y2="502.40" stroke="#111" stroke-width="0.9" stroke-linecap="butt"/>
<text x="347.6" y="509.9" font-size="5.5" fill="#404040" text-anchor="middle" textLength="5.63" lengthAdjust="spacingAndGlyphs">10</text>
<line x1="353.70" y1="499.00" x2="353.70" y2="500.90" stroke="#111" stroke-width="0.9" stroke-linecap="butt"/>
<line x1="359.80" y1="499.00" x2="359.80" y2="502.40" stroke="#111" stroke-width="0.9" stroke-linecap="butt"/>
<text x="359.8" y="509.9" font-size="5.5" fill="#404040" text-anchor="middle" textLength="5.63" lengthAdjust="spacingAndGlyphs">12</text>
<line x1="365.90" y1="499.00" x2="365.90" y2="500.90" stroke="#111" stroke-width="0.9" stroke-linecap="butt"/>
<line x1="372.00" y1="499.00" x2="372.00" y2="502.40" stroke="#111" stroke-width="0.9" stroke-linecap="butt"/>
<text x="372.0" y="509.9" font-size="5.5" fill="#404040" text-anchor="middle" textLength="5.63" lengthAdjust="spacingAndGlyphs">14</text>
<line x1="378.10" y1="499.00" x2="378.10" y2="500.90" stroke="#111" stroke-width="0.9" stroke-linecap="butt"/>
<line x1="384.20" y1="499.00" x2="384.20" y2="502.40" stroke="#111" stroke-width="0.9" stroke-linecap="butt"/>
<text x="384.20000000000005" y="509.9" font-size="5.5" fill="#404040" text-anchor="middle" textLength="5.63" lengthAdjust="spacingAndGlyphs">16</text>
<polyline points="286.60,499.00 293.31,497.28 311.00,498.14 352.48,498.14 380.54,499.00" fill="none" stroke="#f0a53c" stroke-width="1.0" stroke-linejoin="round"/>
<circle cx="286.60" cy="499.00" r="0.95" fill="#f0a53c"/>
<circle cx="293.31" cy="497.28" r="0.95" fill="#f0a53c"/>
<circle cx="311.00" cy="498.14" r="0.95" fill="#f0a53c"/>
<circle cx="352.48" cy="498.14" r="0.95" fill="#f0a53c"/>
<circle cx="380.54" cy="499.00" r="0.95" fill="#f0a53c"/>
<polyline points="286.60,482.32 293.31,497.71 311.00,498.57 352.48,498.57 380.54,499.00" fill="none" stroke="#3a7d5c" stroke-width="1.0" stroke-linejoin="round"/>
<circle cx="286.60" cy="482.32" r="0.95" fill="#3a7d5c"/>
<circle cx="293.31" cy="497.71" r="0.95" fill="#3a7d5c"/>
<circle cx="311.00" cy="498.57" r="0.95" fill="#3a7d5c"/>
<circle cx="352.48" cy="498.57" r="0.95" fill="#3a7d5c"/>
<circle cx="380.54" cy="499.00" r="0.95" fill="#3a7d5c"/>
<polyline points="352.48,497.80 367.73,490.23 380.54,498.14" fill="none" stroke="#222222" stroke-width="1.0" stroke-linejoin="round"/>
<circle cx="352.48" cy="497.80" r="0.95" fill="#222222"/>
<circle cx="367.73" cy="490.23" r="0.95" fill="#222222"/>
<circle cx="380.54" cy="498.14" r="0.95" fill="#222222"/>
<polyline points="352.48,495.22 367.73,473.37 380.54,496.08" fill="none" stroke="#74457f" stroke-width="1.0" stroke-linejoin="round"/>
<circle cx="352.48" cy="495.22" r="0.95" fill="#74457f"/>
<circle cx="367.73" cy="473.37" r="0.95" fill="#74457f"/>
<circle cx="380.54" cy="496.08" r="0.95" fill="#74457f"/>
<polyline points="286.60,460.47 293.31,499.00 311.00,498.14 352.48,494.44 367.73,481.37 380.54,496.51" fill="none" stroke="#b3323f" stroke-width="1.1" stroke-linejoin="round"/>
<circle cx="286.60" cy="460.47" r="0.95" fill="#b3323f"/>
<circle cx="293.31" cy="499.00" r="0.95" fill="#b3323f"/>
<circle cx="311.00" cy="498.14" r="0.95" fill="#b3323f"/>
<circle cx="352.48" cy="494.44" r="0.95" fill="#b3323f"/>
<circle cx="367.73" cy="481.37" r="0.95" fill="#b3323f"/>
<circle cx="380.54" cy="496.51" r="0.95" fill="#b3323f"/>
<circle cx="286.60" cy="481.80" r="0.9" fill="#2c4a8c"/>
<circle cx="293.31" cy="497.71" r="0.9" fill="#2c4a8c"/>
<circle cx="311.00" cy="498.14" r="0.9" fill="#2c4a8c"/>
<circle cx="352.48" cy="496.42" r="0.9" fill="#2c4a8c"/>
<circle cx="361.02" cy="477.76" r="0.9" fill="#2c4a8c"/>
<circle cx="364.68" cy="475.01" r="0.9" fill="#2c4a8c"/>
<circle cx="367.73" cy="499.00" r="0.9" fill="#2c4a8c"/>
<text x="336.1" y="521.5" font-size="7.6" fill="#000" text-anchor="middle" textLength="46.5" lengthAdjust="spacingAndGlyphs" stroke="#000" stroke-width="0.2">Time (months)</text>
<text x="268.7" y="472.4" font-size="7.2" fill="#000" text-anchor="middle" textLength="48" lengthAdjust="spacingAndGlyphs" transform="rotate(-90 268.7 472.4)">Percentage (%)</text>
<line x1="291.80" y1="525.10" x2="309.70" y2="525.10" stroke="#111" stroke-width="1.1" stroke-linecap="butt"/>
<polygon points="287.90,525.10 291.80,523.35 291.80,526.85" fill="#111"/>
<polygon points="313.60,525.10 309.70,523.35 309.70,526.85" fill="#111"/>
<line x1="370.90" y1="525.10" x2="385.10" y2="525.10" stroke="#111" stroke-width="1.1" stroke-linecap="butt"/>
<polygon points="367.00,525.10 370.90,523.35 370.90,526.85" fill="#111"/>
<polygon points="389.00,525.10 385.10,523.35 385.10,526.85" fill="#111"/>
<text x="300.6" y="531" font-size="5.3" fill="#111" text-anchor="middle" textLength="11.6" lengthAdjust="spacingAndGlyphs" stroke="#111" stroke-width="0.12">CLIA</text>
<text x="356.2" y="531" font-size="5.3" fill="#111" text-anchor="middle" textLength="54" lengthAdjust="spacingAndGlyphs" stroke="#111" stroke-width="0.12">Decitabine + Venetoclax</text>
<text x="462.6" y="439.5" font-size="7.9" fill="#111" text-anchor="middle" textLength="22" lengthAdjust="spacingAndGlyphs">UPN31</text>
<circle cx="406.40" cy="413.20" r="0.8" fill="#2c4a8c"/>
<text x="409.8" y="414.6" font-size="5.0" fill="#585858" text-anchor="start" textLength="10.76" lengthAdjust="spacingAndGlyphs">Blasts</text>
<line x1="425.30" y1="413.10" x2="428.40" y2="413.10" stroke="#b3323f" stroke-width="1.2" stroke-linecap="butt"/>
<text x="430.9" y="414.6" font-size="5.0" fill="#585858" text-anchor="start" textLength="31.39" lengthAdjust="spacingAndGlyphs">NPM1 W288fs*12</text>
<line x1="469.10" y1="413.10" x2="472.20" y2="413.10" stroke="#3a7d5c" stroke-width="1.2" stroke-linecap="butt"/>
<text x="474.7" y="414.6" font-size="5.0" fill="#585858" text-anchor="start" textLength="23.64" lengthAdjust="spacingAndGlyphs">TET2 Y1255*</text>
<polygon points="413.70,499.00 413.70,488.60 425.16,496.92 485.32,496.92 504.43,499.00 504.43,499.00" fill="#989cbc" stroke="#8a8dbb" stroke-width="0.4"/>
<line x1="413.70" y1="444.20" x2="413.70" y2="499.70" stroke="#111" stroke-width="1.4" stroke-linecap="butt"/>
<line x1="413.00" y1="499.00" x2="513.30" y2="499.00" stroke="#111" stroke-width="1.4" stroke-linecap="butt"/>
<line x1="410.70" y1="499.00" x2="413.70" y2="499.00" stroke="#111" stroke-width="0.9" stroke-linecap="butt"/>
<text x="407.8" y="501.016" font-size="5.6" fill="#404040" text-anchor="end" textLength="2.87" lengthAdjust="spacingAndGlyphs">0</text>
<line x1="410.70" y1="488.60" x2="413.70" y2="488.60" stroke="#111" stroke-width="0.9" stroke-linecap="butt"/>
<text x="407.8" y="490.61600000000004" font-size="5.6" fill="#404040" text-anchor="end" textLength="5.73" lengthAdjust="spacingAndGlyphs">10</text>
<line x1="410.70" y1="478.20" x2="413.70" y2="478.20" stroke="#111" stroke-width="0.9" stroke-linecap="butt"/>
<text x="407.8" y="480.216" font-size="5.6" fill="#404040" text-anchor="end" textLength="5.73" lengthAdjust="spacingAndGlyphs">20</text>
<line x1="410.70" y1="467.80" x2="413.70" y2="467.80" stroke="#111" stroke-width="0.9" stroke-linecap="butt"/>
<text x="407.8" y="469.81600000000003" font-size="5.6" fill="#404040" text-anchor="end" textLength="5.73" lengthAdjust="spacingAndGlyphs">30</text>
<line x1="410.70" y1="457.40" x2="413.70" y2="457.40" stroke="#111" stroke-width="0.9" stroke-linecap="butt"/>
<text x="407.8" y="459.416" font-size="5.6" fill="#404040" text-anchor="end" textLength="5.73" lengthAdjust="spacingAndGlyphs">40</text>
<line x1="410.70" y1="447.00" x2="413.70" y2="447.00" stroke="#111" stroke-width="0.9" stroke-linecap="butt"/>
<text x="407.8" y="449.016" font-size="5.6" fill="#404040" text-anchor="end" textLength="5.73" lengthAdjust="spacingAndGlyphs">50</text>
<line x1="413.70" y1="499.00" x2="413.70" y2="502.40" stroke="#111" stroke-width="0.9" stroke-linecap="butt"/>
<text x="413.7" y="509.9" font-size="5.5" fill="#404040" text-anchor="middle" textLength="2.81" lengthAdjust="spacingAndGlyphs">0</text>
<line x1="423.25" y1="499.00" x2="423.25" y2="500.90" stroke="#111" stroke-width="0.9" stroke-linecap="butt"/>
<line x1="432.80" y1="499.00" x2="432.80" y2="502.40" stroke="#111" stroke-width="0.9" stroke-linecap="butt"/>
<text x="432.8" y="509.9" font-size="5.5" fill="#404040" text-anchor="middle" textLength="2.81" lengthAdjust="spacingAndGlyphs">2</text>
<line x1="442.35" y1="499.00" x2="442.35" y2="500.90" stroke="#111" stroke-width="0.9" stroke-linecap="butt"/>
<line x1="451.90" y1="499.00" x2="451.90" y2="502.40" stroke="#111" stroke-width="0.9" stroke-linecap="butt"/>
<text x="451.9" y="509.9" font-size="5.5" fill="#404040" text-anchor="middle" textLength="2.81" lengthAdjust="spacingAndGlyphs">4</text>
<line x1="461.45" y1="499.00" x2="461.45" y2="500.90" stroke="#111" stroke-width="0.9" stroke-linecap="butt"/>
<line x1="471.00" y1="499.00" x2="471.00" y2="502.40" stroke="#111" stroke-width="0.9" stroke-linecap="butt"/>
<text x="471.0" y="509.9" font-size="5.5" fill="#404040" text-anchor="middle" textLength="2.81" lengthAdjust="spacingAndGlyphs">6</text>
<line x1="480.55" y1="499.00" x2="480.55" y2="500.90" stroke="#111" stroke-width="0.9" stroke-linecap="butt"/>
<line x1="490.10" y1="499.00" x2="490.10" y2="502.40" stroke="#111" stroke-width="0.9" stroke-linecap="butt"/>
<text x="490.1" y="509.9" font-size="5.5" fill="#404040" text-anchor="middle" textLength="2.81" lengthAdjust="spacingAndGlyphs">8</text>
<line x1="499.65" y1="499.00" x2="499.65" y2="500.90" stroke="#111" stroke-width="0.9" stroke-linecap="butt"/>
<line x1="509.20" y1="499.00" x2="509.20" y2="502.40" stroke="#111" stroke-width="0.9" stroke-linecap="butt"/>
<text x="509.2" y="509.9" font-size="5.5" fill="#404040" text-anchor="middle" textLength="5.63" lengthAdjust="spacingAndGlyphs">10</text>
<polyline points="413.70,465.72 425.16,482.36 485.32,499.00" fill="none" stroke="#3a7d5c" stroke-width="1.0" stroke-linejoin="round"/>
<circle cx="413.70" cy="465.72" r="0.95" fill="#3a7d5c"/>
<circle cx="425.16" cy="482.36" r="0.95" fill="#3a7d5c"/>
<circle cx="485.32" cy="499.00" r="0.95" fill="#3a7d5c"/>
<polyline points="413.70,464.68 425.16,480.28 485.32,499.00 504.43,499.00" fill="none" stroke="#b3323f" stroke-width="1.1" stroke-linejoin="round"/>
<circle cx="413.70" cy="464.68" r="0.95" fill="#b3323f"/>
<circle cx="425.16" cy="480.28" r="0.95" fill="#b3323f"/>
<circle cx="485.32" cy="499.00" r="0.95" fill="#b3323f"/>
<circle cx="504.43" cy="499.00" r="0.95" fill="#b3323f"/>
<circle cx="413.70" cy="488.60" r="0.9" fill="#2c4a8c"/>
<circle cx="425.16" cy="496.92" r="0.9" fill="#2c4a8c"/>
<circle cx="485.32" cy="496.92" r="0.9" fill="#2c4a8c"/>
<circle cx="504.43" cy="499.00" r="0.9" fill="#2c4a8c"/>
<text x="463.1" y="521.5" font-size="7.6" fill="#000" text-anchor="middle" textLength="46.5" lengthAdjust="spacingAndGlyphs" stroke="#000" stroke-width="0.2">Time (months)</text>
<text x="395.2" y="472.4" font-size="7.2" fill="#000" text-anchor="middle" textLength="48" lengthAdjust="spacingAndGlyphs" transform="rotate(-90 395.2 472.4)">Percentage (%)</text>
<line x1="418.40" y1="525.10" x2="469.10" y2="525.10" stroke="#111" stroke-width="1.1" stroke-linecap="butt"/>
<polygon points="414.50,525.10 418.40,523.35 418.40,526.85" fill="#111"/>
<polygon points="473.00,525.10 469.10,523.35 469.10,526.85" fill="#111"/>
<text x="443.9" y="531" font-size="5.3" fill="#111" text-anchor="middle" textLength="11" lengthAdjust="spacingAndGlyphs" stroke="#111" stroke-width="0.12">CLIA</text>
<text x="475.8" y="482.3" font-size="4.6" fill="#6a6a6a" text-anchor="middle" textLength="15.3" lengthAdjust="spacingAndGlyphs">Allo-SCT</text>
<text x="475.7" y="487.5" font-size="4.6" fill="#6a6a6a" text-anchor="middle" textLength="13" lengthAdjust="spacingAndGlyphs">(BuFlu)</text>
<line x1="476.70" y1="488.60" x2="476.70" y2="491.50" stroke="#111" stroke-width="1.1" stroke-linecap="butt"/>
<polygon points="476.70,495.30 474.90,491.50 478.50,491.50" fill="#111"/>
<rect x="0" y="0" width="520" height="1" fill="#4a4a4a"/>
<rect x="0" y="1" width="520" height="0.6" fill="#999"/>
<rect x="0" y="537" width="520" height="2" fill="#5e5e5e"/>
<rect x="0" y="536.5" width="520" height="0.5" fill="#bbb"/>
<rect x="0" y="0" width="1.1" height="539" fill="#0a0a0a"/>
<rect x="518.9" y="0" width="1.1" height="539" fill="#0a0a0a"/>
</svg>
</body></html>
